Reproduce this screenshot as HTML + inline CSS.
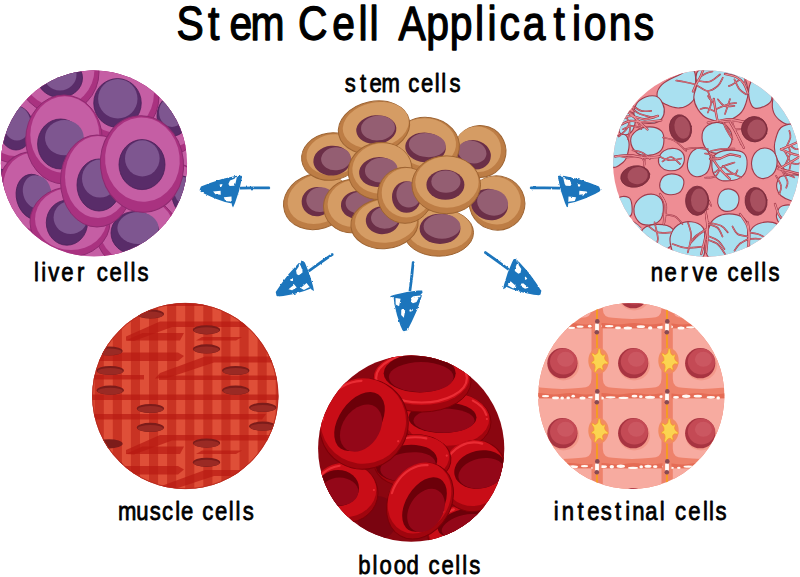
<!DOCTYPE html>
<html lang="en">
<head>
<meta charset="utf-8">
<title>Stem Cell Applications</title>
<style>
html,body{margin:0;padding:0;background:#fff;}
body{width:800px;height:577px;overflow:hidden;font-family:"Liberation Sans",sans-serif;}
svg{display:block;}
text{font-family:"Liberation Sans",sans-serif;fill:#000;stroke:#000;stroke-linejoin:round;stroke-linecap:round;}
</style>
</head>
<body>
<svg width="800" height="577" viewBox="0 0 800 577">
<rect width="800" height="577" fill="#fff"/>
<defs>
<clipPath id="cLiver"><circle cx="94" cy="163.5" r="93.1"/></clipPath>
<clipPath id="cNerve"><circle cx="706.3" cy="163.5" r="93.2"/></clipPath>
<clipPath id="cMuscle"><circle cx="185.3" cy="396" r="93.1"/></clipPath>
<clipPath id="cBlood"><circle cx="411.2" cy="448.6" r="93.1"/></clipPath>
<clipPath id="cIntest"><circle cx="631.3" cy="396" r="93.1"/></clipPath>
</defs>
<g clip-path="url(#cLiver)">
<rect x="0" y="69" width="188" height="189" fill="#c55ea4"/>
<ellipse cx="8" cy="166" rx="26" ry="26" fill="#a93280" stroke="#8e2a70" stroke-width="1.0"/><ellipse cx="9" cy="164" rx="23" ry="23" fill="#c55ea4"/><ellipse cx="0" cy="177" rx="8" ry="8" fill="#592c69" stroke="#4b2159" stroke-width="0.8"/>
<ellipse cx="14" cy="126" rx="33" ry="37" fill="#a93280" stroke="#8e2a70" stroke-width="1.0"/><ellipse cx="15" cy="123" rx="30" ry="33" fill="#c55ea4"/><ellipse cx="16" cy="128" rx="17" ry="22" fill="#592c69" stroke="#4b2159" stroke-width="0.8"/><ellipse cx="17" cy="123.5" rx="13.5" ry="17" fill="#7e5690"/>
<ellipse cx="172" cy="118" rx="30" ry="36" fill="#a93280" stroke="#8e2a70" stroke-width="1.0"/><ellipse cx="172" cy="115" rx="27" ry="32" fill="#c55ea4"/><ellipse cx="173" cy="116" rx="16" ry="20" fill="#592c69" stroke="#4b2159" stroke-width="0.8"/><ellipse cx="172" cy="112" rx="13" ry="15" fill="#7e5690"/>
<ellipse cx="117.5" cy="96" rx="41.5" ry="44" fill="#a93280" stroke="#8e2a70" stroke-width="1.0"/><ellipse cx="117.5" cy="93" rx="36.5" ry="40" fill="#c55ea4"/><ellipse cx="117.5" cy="103" rx="23.75" ry="24.4" fill="#592c69" stroke="#4b2159" stroke-width="0.8"/><ellipse cx="117.8" cy="98.8" rx="19.7" ry="19.7" fill="#7e5690"/>
<ellipse cx="58" cy="72" rx="41" ry="42" fill="#a93280" stroke="#8e2a70" stroke-width="1.0"/><ellipse cx="58" cy="69" rx="36.5" ry="38" fill="#c55ea4"/><ellipse cx="60" cy="78" rx="22.5" ry="19.5" fill="#592c69" stroke="#4b2159" stroke-width="0.8"/><ellipse cx="60" cy="74.5" rx="16.5" ry="16" fill="#7e5690"/>
<ellipse cx="178" cy="196" rx="24" ry="32" fill="#a93280" stroke="#8e2a70" stroke-width="1.0"/><ellipse cx="178" cy="193" rx="21" ry="28" fill="#c55ea4"/><ellipse cx="183" cy="194" rx="11" ry="18" fill="#592c69" stroke="#4b2159" stroke-width="0.8"/><ellipse cx="183" cy="190" rx="9" ry="13" fill="#7e5690"/>
<ellipse cx="137" cy="233" rx="41" ry="37" fill="#a93280" stroke="#8e2a70" stroke-width="1.0"/><ellipse cx="137" cy="230" rx="37" ry="33" fill="#c55ea4"/><ellipse cx="135" cy="233" rx="24" ry="21.5" fill="#592c69" stroke="#4b2159" stroke-width="0.8"/><ellipse cx="138" cy="228" rx="20.6" ry="16" fill="#7e5690"/>
<ellipse cx="36" cy="196" rx="37" ry="45" transform="rotate(-20 36 196)" fill="#a93280" stroke="#8e2a70" stroke-width="1.0"/><ellipse cx="37" cy="192" rx="33" ry="40" transform="rotate(-20 37 192)" fill="#c55ea4"/><ellipse cx="34" cy="197" rx="17.5" ry="23" transform="rotate(-15 34 197)" fill="#592c69" stroke="#4b2159" stroke-width="0.8"/><ellipse cx="37" cy="192" rx="14" ry="17" transform="rotate(-15 37 192)" fill="#7e5690"/>
<ellipse cx="70" cy="222" rx="40" ry="35" fill="#a93280" stroke="#8e2a70" stroke-width="1.0"/><ellipse cx="71" cy="219" rx="36" ry="31" fill="#c55ea4"/><ellipse cx="66.9" cy="222.7" rx="20.6" ry="22.5" fill="#592c69" stroke="#4b2159" stroke-width="0.8"/><ellipse cx="70.6" cy="217.5" rx="17" ry="16.5" fill="#7e5690"/>
<ellipse cx="64" cy="139.5" rx="38.3" ry="44.5" fill="#a93280" stroke="#8e2a70" stroke-width="1.0"/><ellipse cx="64.8" cy="134.8" rx="34.5" ry="38.5" fill="#c55ea4"/><ellipse cx="60.6" cy="144" rx="23" ry="25" fill="#592c69" stroke="#4b2159" stroke-width="0.8"/><ellipse cx="64.4" cy="137.7" rx="19.4" ry="17.6" fill="#7e5690"/>
<ellipse cx="97" cy="181" rx="36.5" ry="46" fill="#a93280" stroke="#8e2a70" stroke-width="1.0"/><ellipse cx="98" cy="177" rx="33" ry="41" fill="#c55ea4"/><ellipse cx="99" cy="185" rx="22" ry="26" fill="#592c69" stroke="#4b2159" stroke-width="0.8"/><ellipse cx="100" cy="178.6" rx="18" ry="19" fill="#7e5690"/>
<ellipse cx="142" cy="164" rx="41.5" ry="48.3" transform="rotate(-6 142 164)" fill="#a93280" stroke="#8e2a70" stroke-width="1.0"/><ellipse cx="142.4" cy="159.6" rx="37.3" ry="42.2" transform="rotate(-6 142.4 159.6)" fill="#c55ea4"/><ellipse cx="142" cy="164.6" rx="23" ry="25" fill="#592c69" stroke="#4b2159" stroke-width="0.8"/><ellipse cx="142.3" cy="158.4" rx="17.3" ry="18.1" fill="#7e5690"/>
</g>
<g clip-path="url(#cNerve)">
<rect x="612" y="69" width="188" height="189" fill="#ee8d94"/>
<g transform="translate(608 66) scale(0.33276)" stroke-linejoin="round" stroke-linecap="round">
<path d="M40.0 455.0C50.3 452.9 65.5 460.7 80.0 470.0C94.5 479.3 95.5 481.4 110.0 500.0C124.5 518.6 152.1 547.6 150.0 560.0C147.9 572.4 124.8 576.5 100.0 560.0C75.2 543.5 42.4 501.7 30.0 480.0C17.6 458.3 29.7 457.1 40.0 455.0Z" fill="#a9e0f0" stroke="#a13a4a" stroke-width="3"/>
<path d="M148.0 92.0C145.3 79.6 148.8 69.2 162.0 56.0C175.2 42.8 192.4 37.1 212.0 28.0C231.6 18.9 246.7 1.7 257.0 12.0C267.3 22.3 263.4 57.7 262.0 78.0C260.6 98.3 259.7 100.1 250.0 110.0C240.3 119.9 230.5 124.8 215.0 126.0C199.5 127.2 188.8 123.0 175.0 116.0C161.2 109.0 150.7 104.4 148.0 92.0Z" fill="none" stroke="#ee8d94" stroke-width="11"/>
<path d="M266.0 60.0C268.9 43.3 256.7 25.2 272.0 14.0C287.3 2.8 313.5 3.5 340.0 6.0C366.5 8.5 383.5 12.8 400.0 26.0C416.5 39.2 416.9 52.6 420.0 70.0C423.1 87.4 420.2 94.5 415.0 110.0C409.8 125.5 408.4 133.4 395.0 145.0C381.6 156.6 369.6 163.3 350.0 166.0C330.4 168.7 316.5 165.4 300.0 158.0C283.5 150.6 278.7 143.0 270.0 130.0C261.3 117.0 258.8 109.5 258.0 95.0C257.2 80.5 263.1 76.7 266.0 60.0Z" fill="none" stroke="#ee8d94" stroke-width="11"/>
<path d="M425.0 60.0C429.1 46.8 433.2 33.5 445.0 36.0C456.8 38.5 472.3 58.8 482.0 72.0C491.7 85.2 494.1 90.1 492.0 100.0C489.9 109.9 482.7 114.6 472.0 120.0C461.3 125.4 449.7 130.1 440.0 126.0C430.3 121.9 428.1 113.6 425.0 100.0C421.9 86.4 420.9 73.2 425.0 60.0Z" fill="none" stroke="#ee8d94" stroke-width="11"/>
<path d="M495.0 102.0C496.7 92.1 493.4 79.6 506.0 92.0C518.6 104.4 547.3 144.6 556.0 162.0C564.7 179.4 555.4 175.2 548.0 176.0C540.6 176.8 530.3 173.4 520.0 166.0C509.7 158.6 503.2 153.2 498.0 140.0C492.8 126.8 493.3 111.9 495.0 102.0Z" fill="none" stroke="#ee8d94" stroke-width="11"/>
<path d="M78.0 140.0C79.7 128.0 80.8 114.3 94.0 104.0C107.2 93.7 127.3 87.7 142.0 90.0C156.7 92.3 159.6 103.6 165.0 115.0C170.4 126.4 171.1 134.0 168.0 145.0C164.9 156.0 161.0 162.4 150.0 168.0C139.0 173.6 128.2 173.2 115.0 172.0C101.8 170.8 93.6 168.6 86.0 162.0C78.4 155.4 76.3 152.0 78.0 140.0Z" fill="none" stroke="#ee8d94" stroke-width="11"/>
<path d="M40.0 170.0C45.6 157.6 53.7 144.1 62.0 140.0C70.3 135.9 76.7 140.7 80.0 150.0C83.3 159.3 82.1 173.6 78.0 185.0C73.9 196.4 68.9 201.9 60.0 205.0C51.1 208.1 39.1 207.2 35.0 200.0C30.9 192.8 34.4 182.4 40.0 170.0Z" fill="none" stroke="#ee8d94" stroke-width="11"/>
<path d="M68.0 225.0C67.4 211.2 73.2 203.7 85.0 195.0C96.8 186.3 109.5 183.0 125.0 183.0C140.5 183.0 151.1 186.3 160.0 195.0C168.9 203.7 168.4 212.6 168.0 225.0C167.6 237.4 166.9 246.1 158.0 255.0C149.1 263.9 139.5 266.6 125.0 268.0C110.5 269.4 99.8 270.9 88.0 262.0C76.2 253.1 68.6 238.8 68.0 225.0Z" fill="none" stroke="#ee8d94" stroke-width="11"/>
<path d="M283.0 205.0C284.7 191.2 289.3 185.2 300.0 178.0C310.7 170.8 321.6 167.5 335.0 170.0C348.4 172.5 357.4 178.6 365.0 190.0C372.6 201.4 374.1 212.2 372.0 225.0C369.9 237.8 365.7 244.4 355.0 252.0C344.3 259.6 333.0 263.4 320.0 262.0C307.0 260.6 299.6 256.8 292.0 245.0C284.4 233.2 281.3 218.8 283.0 205.0Z" fill="none" stroke="#ee8d94" stroke-width="11"/>
<path d="M505.0 215.0C509.1 202.6 509.7 193.5 520.0 185.0C530.3 176.5 539.5 174.0 555.0 174.0C570.5 174.0 586.7 154.4 595.0 185.0C603.3 215.6 602.2 293.7 595.0 322.0C587.8 350.3 573.4 324.5 560.0 322.0C546.6 319.5 540.7 318.7 530.0 310.0C519.3 301.3 514.2 293.4 508.0 280.0C501.8 266.6 500.6 258.4 500.0 245.0C499.4 231.6 500.9 227.4 505.0 215.0Z" fill="none" stroke="#ee8d94" stroke-width="11"/>
<path d="M10.0 230.0C17.2 210.4 34.3 206.0 45.0 205.0C55.7 204.0 58.9 213.6 62.0 225.0C65.1 236.4 63.5 246.6 60.0 260.0C56.5 273.4 55.3 281.7 45.0 290.0C34.7 298.3 17.2 312.4 10.0 300.0C2.8 287.6 2.8 249.6 10.0 230.0Z" fill="none" stroke="#ee8d94" stroke-width="11"/>
<path d="M152.0 280.0C154.1 270.3 158.1 261.6 168.0 255.0C177.9 248.4 188.2 246.6 200.0 248.0C211.8 249.4 219.2 253.3 225.0 262.0C230.8 270.7 230.7 280.1 228.0 290.0C225.3 299.9 221.9 305.0 212.0 310.0C202.1 315.0 191.2 315.7 180.0 314.0C168.8 312.3 163.8 309.0 158.0 302.0C152.2 295.0 149.9 289.7 152.0 280.0Z" fill="none" stroke="#ee8d94" stroke-width="11"/>
<path d="M240.0 285.0C242.7 272.6 245.7 263.1 255.0 255.0C264.3 246.9 274.7 243.9 285.0 246.0C295.3 248.1 300.7 253.8 305.0 265.0C309.3 276.2 308.7 287.6 306.0 300.0C303.3 312.4 301.1 318.4 292.0 325.0C282.9 331.6 272.3 334.1 262.0 332.0C251.7 329.9 246.5 324.7 242.0 315.0C237.5 305.3 237.3 297.4 240.0 285.0Z" fill="none" stroke="#ee8d94" stroke-width="11"/>
<path d="M312.0 290.0C312.6 274.9 316.0 269.6 328.0 262.0C340.0 254.4 353.5 253.0 370.0 253.0C386.5 253.0 398.1 253.3 408.0 262.0C417.9 270.7 418.6 280.9 418.0 295.0C417.4 309.1 416.0 319.7 405.0 330.0C394.0 340.3 381.5 344.0 365.0 345.0C348.5 346.0 336.0 346.4 325.0 335.0C314.0 323.6 311.4 305.1 312.0 290.0Z" fill="none" stroke="#ee8d94" stroke-width="11"/>
<path d="M432.0 285.0C434.1 271.6 438.5 262.9 448.0 255.0C457.5 247.1 466.6 244.9 478.0 247.0C489.4 249.1 497.0 254.0 503.0 265.0C509.0 276.0 509.3 287.0 507.0 300.0C504.7 313.0 501.3 320.1 492.0 328.0C482.7 335.9 473.2 339.7 462.0 338.0C450.8 336.3 444.2 331.0 438.0 320.0C431.8 309.0 429.9 298.4 432.0 285.0Z" fill="none" stroke="#ee8d94" stroke-width="11"/>
<path d="M156.0 352.0C158.1 342.9 160.9 335.6 170.0 330.0C179.1 324.4 188.6 323.3 200.0 325.0C211.4 326.7 219.6 330.4 225.0 338.0C230.4 345.6 228.7 352.9 226.0 362.0C223.3 371.1 221.5 377.0 212.0 382.0C202.5 387.0 190.7 387.7 180.0 386.0C169.3 384.3 165.0 381.0 160.0 374.0C155.0 367.0 153.9 361.1 156.0 352.0Z" fill="none" stroke="#ee8d94" stroke-width="11"/>
<path d="M330.0 400.0C331.9 390.5 334.1 382.2 342.0 376.0C349.9 369.8 358.1 368.1 368.0 370.0C377.9 371.9 385.0 376.3 390.0 385.0C395.0 393.7 394.5 402.3 392.0 412.0C389.5 421.7 386.7 427.0 378.0 432.0C369.3 437.0 359.3 438.1 350.0 436.0C340.7 433.9 337.1 429.4 333.0 422.0C328.9 414.6 328.1 409.5 330.0 400.0Z" fill="none" stroke="#ee8d94" stroke-width="11"/>
<path d="M510.0 345.0C514.5 336.7 512.4 331.4 530.0 330.0C547.6 328.6 581.6 321.1 595.0 338.0C608.4 354.9 604.3 398.2 595.0 412.0C585.7 425.8 565.5 409.5 550.0 405.0C534.5 400.5 528.7 397.2 520.0 390.0C511.3 382.8 510.1 379.3 508.0 370.0C505.9 360.7 505.5 353.3 510.0 345.0Z" fill="none" stroke="#ee8d94" stroke-width="11"/>
<path d="M78.0 430.0C78.6 415.5 84.3 407.3 95.0 398.0C105.7 388.7 116.6 384.6 130.0 385.0C143.4 385.4 152.6 389.7 160.0 400.0C167.4 410.3 167.0 421.6 166.0 435.0C165.0 448.4 163.5 456.1 155.0 465.0C146.5 473.9 138.0 477.4 125.0 478.0C112.0 478.6 101.7 477.9 92.0 468.0C82.3 458.1 77.4 444.5 78.0 430.0Z" fill="none" stroke="#ee8d94" stroke-width="11"/>
<path d="M30.0 400.0C33.5 389.7 53.3 390.9 62.0 395.0C70.7 399.1 70.8 408.6 72.0 420.0C73.2 431.4 73.6 444.8 68.0 450.0C62.4 455.2 52.9 455.3 45.0 445.0C37.1 434.7 26.5 410.3 30.0 400.0Z" fill="none" stroke="#ee8d94" stroke-width="11"/>
<path d="M105.0 490.0C114.3 480.5 131.4 476.0 150.0 476.0C168.6 476.0 184.7 478.8 195.0 490.0C205.3 501.2 209.3 516.6 200.0 530.0C190.7 543.4 169.6 556.7 150.0 555.0C130.4 553.3 114.3 535.4 105.0 522.0C95.7 508.6 95.7 499.5 105.0 490.0Z" fill="none" stroke="#ee8d94" stroke-width="11"/>
<path d="M188.0 510.0C192.1 496.2 197.2 486.7 210.0 478.0C222.8 469.3 234.5 466.6 250.0 468.0C265.5 469.4 276.7 474.3 285.0 485.0C293.3 495.7 291.0 500.4 290.0 520.0C289.0 539.6 296.5 567.6 280.0 580.0C263.5 592.4 228.6 587.2 210.0 580.0C191.4 572.8 194.5 559.5 190.0 545.0C185.5 530.5 183.9 523.8 188.0 510.0Z" fill="none" stroke="#ee8d94" stroke-width="11"/>
<path d="M302.0 490.0C307.6 474.5 309.9 464.3 325.0 455.0C340.1 445.7 356.4 442.9 375.0 445.0C393.6 447.1 405.7 452.6 415.0 465.0C424.3 477.4 421.0 481.2 420.0 505.0C419.0 528.8 432.7 564.5 410.0 580.0C387.3 595.5 333.1 590.3 310.0 580.0C286.9 569.7 299.7 548.6 298.0 530.0C296.3 511.4 296.4 505.5 302.0 490.0Z" fill="none" stroke="#ee8d94" stroke-width="11"/>
<path d="M425.0 500.0C430.8 488.6 435.5 481.2 450.0 475.0C464.5 468.8 480.5 466.9 495.0 470.0C509.5 473.1 515.9 477.6 520.0 490.0C524.1 502.4 531.5 516.6 515.0 530.0C498.5 543.4 459.2 555.0 440.0 555.0C420.8 555.0 425.1 541.4 422.0 530.0C418.9 518.6 419.2 511.4 425.0 500.0Z" fill="none" stroke="#ee8d94" stroke-width="11"/>
<path d="M508.0 440.0C511.1 430.7 514.3 423.1 525.0 420.0C535.7 416.9 551.7 414.7 560.0 425.0C568.3 435.3 571.2 458.6 565.0 470.0C558.8 481.4 541.4 481.0 530.0 480.0C518.6 479.0 514.5 473.3 510.0 465.0C505.5 456.7 504.9 449.3 508.0 440.0Z" fill="none" stroke="#ee8d94" stroke-width="11"/>
<path d="M148.0 92.0C145.3 79.6 148.8 69.2 162.0 56.0C175.2 42.8 192.4 37.1 212.0 28.0C231.6 18.9 246.7 1.7 257.0 12.0C267.3 22.3 263.4 57.7 262.0 78.0C260.6 98.3 259.7 100.1 250.0 110.0C240.3 119.9 230.5 124.8 215.0 126.0C199.5 127.2 188.8 123.0 175.0 116.0C161.2 109.0 150.7 104.4 148.0 92.0Z" fill="#a9e0f0" stroke="#a13a4a" stroke-width="3.4"/>
<path d="M266.0 60.0C268.9 43.3 256.7 25.2 272.0 14.0C287.3 2.8 313.5 3.5 340.0 6.0C366.5 8.5 383.5 12.8 400.0 26.0C416.5 39.2 416.9 52.6 420.0 70.0C423.1 87.4 420.2 94.5 415.0 110.0C409.8 125.5 408.4 133.4 395.0 145.0C381.6 156.6 369.6 163.3 350.0 166.0C330.4 168.7 316.5 165.4 300.0 158.0C283.5 150.6 278.7 143.0 270.0 130.0C261.3 117.0 258.8 109.5 258.0 95.0C257.2 80.5 263.1 76.7 266.0 60.0Z" fill="#a9e0f0" stroke="#a13a4a" stroke-width="3.4"/>
<path d="M425.0 60.0C429.1 46.8 433.2 33.5 445.0 36.0C456.8 38.5 472.3 58.8 482.0 72.0C491.7 85.2 494.1 90.1 492.0 100.0C489.9 109.9 482.7 114.6 472.0 120.0C461.3 125.4 449.7 130.1 440.0 126.0C430.3 121.9 428.1 113.6 425.0 100.0C421.9 86.4 420.9 73.2 425.0 60.0Z" fill="#a9e0f0" stroke="#a13a4a" stroke-width="3.4"/>
<path d="M495.0 102.0C496.7 92.1 493.4 79.6 506.0 92.0C518.6 104.4 547.3 144.6 556.0 162.0C564.7 179.4 555.4 175.2 548.0 176.0C540.6 176.8 530.3 173.4 520.0 166.0C509.7 158.6 503.2 153.2 498.0 140.0C492.8 126.8 493.3 111.9 495.0 102.0Z" fill="#a9e0f0" stroke="#a13a4a" stroke-width="3.4"/>
<path d="M78.0 140.0C79.7 128.0 80.8 114.3 94.0 104.0C107.2 93.7 127.3 87.7 142.0 90.0C156.7 92.3 159.6 103.6 165.0 115.0C170.4 126.4 171.1 134.0 168.0 145.0C164.9 156.0 161.0 162.4 150.0 168.0C139.0 173.6 128.2 173.2 115.0 172.0C101.8 170.8 93.6 168.6 86.0 162.0C78.4 155.4 76.3 152.0 78.0 140.0Z" fill="#a9e0f0" stroke="#a13a4a" stroke-width="3.4"/>
<path d="M40.0 170.0C45.6 157.6 53.7 144.1 62.0 140.0C70.3 135.9 76.7 140.7 80.0 150.0C83.3 159.3 82.1 173.6 78.0 185.0C73.9 196.4 68.9 201.9 60.0 205.0C51.1 208.1 39.1 207.2 35.0 200.0C30.9 192.8 34.4 182.4 40.0 170.0Z" fill="#a9e0f0" stroke="#a13a4a" stroke-width="3.4"/>
<path d="M68.0 225.0C67.4 211.2 73.2 203.7 85.0 195.0C96.8 186.3 109.5 183.0 125.0 183.0C140.5 183.0 151.1 186.3 160.0 195.0C168.9 203.7 168.4 212.6 168.0 225.0C167.6 237.4 166.9 246.1 158.0 255.0C149.1 263.9 139.5 266.6 125.0 268.0C110.5 269.4 99.8 270.9 88.0 262.0C76.2 253.1 68.6 238.8 68.0 225.0Z" fill="#a9e0f0" stroke="#a13a4a" stroke-width="3.4"/>
<path d="M283.0 205.0C284.7 191.2 289.3 185.2 300.0 178.0C310.7 170.8 321.6 167.5 335.0 170.0C348.4 172.5 357.4 178.6 365.0 190.0C372.6 201.4 374.1 212.2 372.0 225.0C369.9 237.8 365.7 244.4 355.0 252.0C344.3 259.6 333.0 263.4 320.0 262.0C307.0 260.6 299.6 256.8 292.0 245.0C284.4 233.2 281.3 218.8 283.0 205.0Z" fill="#a9e0f0" stroke="#a13a4a" stroke-width="3.4"/>
<path d="M505.0 215.0C509.1 202.6 509.7 193.5 520.0 185.0C530.3 176.5 539.5 174.0 555.0 174.0C570.5 174.0 586.7 154.4 595.0 185.0C603.3 215.6 602.2 293.7 595.0 322.0C587.8 350.3 573.4 324.5 560.0 322.0C546.6 319.5 540.7 318.7 530.0 310.0C519.3 301.3 514.2 293.4 508.0 280.0C501.8 266.6 500.6 258.4 500.0 245.0C499.4 231.6 500.9 227.4 505.0 215.0Z" fill="#a9e0f0" stroke="#a13a4a" stroke-width="3.4"/>
<path d="M10.0 230.0C17.2 210.4 34.3 206.0 45.0 205.0C55.7 204.0 58.9 213.6 62.0 225.0C65.1 236.4 63.5 246.6 60.0 260.0C56.5 273.4 55.3 281.7 45.0 290.0C34.7 298.3 17.2 312.4 10.0 300.0C2.8 287.6 2.8 249.6 10.0 230.0Z" fill="#a9e0f0" stroke="#a13a4a" stroke-width="3.4"/>
<path d="M152.0 280.0C154.1 270.3 158.1 261.6 168.0 255.0C177.9 248.4 188.2 246.6 200.0 248.0C211.8 249.4 219.2 253.3 225.0 262.0C230.8 270.7 230.7 280.1 228.0 290.0C225.3 299.9 221.9 305.0 212.0 310.0C202.1 315.0 191.2 315.7 180.0 314.0C168.8 312.3 163.8 309.0 158.0 302.0C152.2 295.0 149.9 289.7 152.0 280.0Z" fill="#a9e0f0" stroke="#a13a4a" stroke-width="3.4"/>
<path d="M240.0 285.0C242.7 272.6 245.7 263.1 255.0 255.0C264.3 246.9 274.7 243.9 285.0 246.0C295.3 248.1 300.7 253.8 305.0 265.0C309.3 276.2 308.7 287.6 306.0 300.0C303.3 312.4 301.1 318.4 292.0 325.0C282.9 331.6 272.3 334.1 262.0 332.0C251.7 329.9 246.5 324.7 242.0 315.0C237.5 305.3 237.3 297.4 240.0 285.0Z" fill="#a9e0f0" stroke="#a13a4a" stroke-width="3.4"/>
<path d="M312.0 290.0C312.6 274.9 316.0 269.6 328.0 262.0C340.0 254.4 353.5 253.0 370.0 253.0C386.5 253.0 398.1 253.3 408.0 262.0C417.9 270.7 418.6 280.9 418.0 295.0C417.4 309.1 416.0 319.7 405.0 330.0C394.0 340.3 381.5 344.0 365.0 345.0C348.5 346.0 336.0 346.4 325.0 335.0C314.0 323.6 311.4 305.1 312.0 290.0Z" fill="#a9e0f0" stroke="#a13a4a" stroke-width="3.4"/>
<path d="M432.0 285.0C434.1 271.6 438.5 262.9 448.0 255.0C457.5 247.1 466.6 244.9 478.0 247.0C489.4 249.1 497.0 254.0 503.0 265.0C509.0 276.0 509.3 287.0 507.0 300.0C504.7 313.0 501.3 320.1 492.0 328.0C482.7 335.9 473.2 339.7 462.0 338.0C450.8 336.3 444.2 331.0 438.0 320.0C431.8 309.0 429.9 298.4 432.0 285.0Z" fill="#a9e0f0" stroke="#a13a4a" stroke-width="3.4"/>
<path d="M156.0 352.0C158.1 342.9 160.9 335.6 170.0 330.0C179.1 324.4 188.6 323.3 200.0 325.0C211.4 326.7 219.6 330.4 225.0 338.0C230.4 345.6 228.7 352.9 226.0 362.0C223.3 371.1 221.5 377.0 212.0 382.0C202.5 387.0 190.7 387.7 180.0 386.0C169.3 384.3 165.0 381.0 160.0 374.0C155.0 367.0 153.9 361.1 156.0 352.0Z" fill="#a9e0f0" stroke="#a13a4a" stroke-width="3.4"/>
<path d="M330.0 400.0C331.9 390.5 334.1 382.2 342.0 376.0C349.9 369.8 358.1 368.1 368.0 370.0C377.9 371.9 385.0 376.3 390.0 385.0C395.0 393.7 394.5 402.3 392.0 412.0C389.5 421.7 386.7 427.0 378.0 432.0C369.3 437.0 359.3 438.1 350.0 436.0C340.7 433.9 337.1 429.4 333.0 422.0C328.9 414.6 328.1 409.5 330.0 400.0Z" fill="#a9e0f0" stroke="#a13a4a" stroke-width="3.4"/>
<path d="M510.0 345.0C514.5 336.7 512.4 331.4 530.0 330.0C547.6 328.6 581.6 321.1 595.0 338.0C608.4 354.9 604.3 398.2 595.0 412.0C585.7 425.8 565.5 409.5 550.0 405.0C534.5 400.5 528.7 397.2 520.0 390.0C511.3 382.8 510.1 379.3 508.0 370.0C505.9 360.7 505.5 353.3 510.0 345.0Z" fill="#a9e0f0" stroke="#a13a4a" stroke-width="3.4"/>
<path d="M78.0 430.0C78.6 415.5 84.3 407.3 95.0 398.0C105.7 388.7 116.6 384.6 130.0 385.0C143.4 385.4 152.6 389.7 160.0 400.0C167.4 410.3 167.0 421.6 166.0 435.0C165.0 448.4 163.5 456.1 155.0 465.0C146.5 473.9 138.0 477.4 125.0 478.0C112.0 478.6 101.7 477.9 92.0 468.0C82.3 458.1 77.4 444.5 78.0 430.0Z" fill="#a9e0f0" stroke="#a13a4a" stroke-width="3.4"/>
<path d="M30.0 400.0C33.5 389.7 53.3 390.9 62.0 395.0C70.7 399.1 70.8 408.6 72.0 420.0C73.2 431.4 73.6 444.8 68.0 450.0C62.4 455.2 52.9 455.3 45.0 445.0C37.1 434.7 26.5 410.3 30.0 400.0Z" fill="#a9e0f0" stroke="#a13a4a" stroke-width="3.4"/>
<path d="M105.0 490.0C114.3 480.5 131.4 476.0 150.0 476.0C168.6 476.0 184.7 478.8 195.0 490.0C205.3 501.2 209.3 516.6 200.0 530.0C190.7 543.4 169.6 556.7 150.0 555.0C130.4 553.3 114.3 535.4 105.0 522.0C95.7 508.6 95.7 499.5 105.0 490.0Z" fill="#a9e0f0" stroke="#a13a4a" stroke-width="3.4"/>
<path d="M188.0 510.0C192.1 496.2 197.2 486.7 210.0 478.0C222.8 469.3 234.5 466.6 250.0 468.0C265.5 469.4 276.7 474.3 285.0 485.0C293.3 495.7 291.0 500.4 290.0 520.0C289.0 539.6 296.5 567.6 280.0 580.0C263.5 592.4 228.6 587.2 210.0 580.0C191.4 572.8 194.5 559.5 190.0 545.0C185.5 530.5 183.9 523.8 188.0 510.0Z" fill="#a9e0f0" stroke="#a13a4a" stroke-width="3.4"/>
<path d="M302.0 490.0C307.6 474.5 309.9 464.3 325.0 455.0C340.1 445.7 356.4 442.9 375.0 445.0C393.6 447.1 405.7 452.6 415.0 465.0C424.3 477.4 421.0 481.2 420.0 505.0C419.0 528.8 432.7 564.5 410.0 580.0C387.3 595.5 333.1 590.3 310.0 580.0C286.9 569.7 299.7 548.6 298.0 530.0C296.3 511.4 296.4 505.5 302.0 490.0Z" fill="#a9e0f0" stroke="#a13a4a" stroke-width="3.4"/>
<path d="M425.0 500.0C430.8 488.6 435.5 481.2 450.0 475.0C464.5 468.8 480.5 466.9 495.0 470.0C509.5 473.1 515.9 477.6 520.0 490.0C524.1 502.4 531.5 516.6 515.0 530.0C498.5 543.4 459.2 555.0 440.0 555.0C420.8 555.0 425.1 541.4 422.0 530.0C418.9 518.6 419.2 511.4 425.0 500.0Z" fill="#a9e0f0" stroke="#a13a4a" stroke-width="3.4"/>
<path d="M508.0 440.0C511.1 430.7 514.3 423.1 525.0 420.0C535.7 416.9 551.7 414.7 560.0 425.0C568.3 435.3 571.2 458.6 565.0 470.0C558.8 481.4 541.4 481.0 530.0 480.0C518.6 479.0 514.5 473.3 510.0 465.0C505.5 456.7 504.9 449.3 508.0 440.0Z" fill="#a9e0f0" stroke="#a13a4a" stroke-width="3.4"/>
<path d="M255.4 76.6C257.1 72.9 261.5 61.6 265.2 54.1C269.0 46.6 274.6 38.4 278.0 31.6C281.4 24.7 284.2 15.9 285.5 12.8" fill="none" stroke="#a13a4a" stroke-width="7"/>
<path d="M270.5 45.1C276.5 45.3 295.5 49.8 306.5 46.6C317.6 43.3 331.6 29.1 336.6 25.5" fill="none" stroke="#a13a4a" stroke-width="5"/>
<path d="M265.2 55.6C259.6 54.3 241.4 50.1 231.4 48.1C221.4 46.1 209.5 44.3 205.1 43.6" fill="none" stroke="#a13a4a" stroke-width="5"/>
<path d="M278.0 31.6C281.5 29.7 293.0 22.8 299.0 20.3C305.0 17.8 311.5 17.2 314.0 16.5" fill="none" stroke="#a13a4a" stroke-width="5"/>
<path d="M420.7 82.6C418.6 77.6 413.8 60.9 408.0 52.6C402.1 44.3 394.8 37.8 385.4 33.1C376.0 28.3 357.2 25.5 351.6 24.0" fill="none" stroke="#a13a4a" stroke-width="7"/>
<path d="M410.2 57.1C410.7 54.1 411.1 43.3 413.2 39.1C415.3 34.8 421.4 32.8 423.0 31.6" fill="none" stroke="#a13a4a" stroke-width="5"/>
<path d="M396.7 40.6C392.9 43.1 379.8 52.3 374.1 55.6C368.5 58.9 364.8 59.4 362.9 60.1" fill="none" stroke="#a13a4a" stroke-width="5"/>
<path d="M329.1 165.3C328.1 159.9 324.9 144.0 323.1 133.0C321.2 122.0 318.7 104.8 317.8 99.2" fill="none" stroke="#a13a4a" stroke-width="7"/>
<path d="M324.6 138.2C319.7 136.2 303.0 127.7 295.3 126.2C287.5 124.7 280.9 128.7 278.0 129.2" fill="none" stroke="#a13a4a" stroke-width="5"/>
<path d="M322.3 130.7C328.4 128.2 348.6 119.0 359.1 115.7C369.6 112.4 381.0 111.9 385.4 111.2" fill="none" stroke="#a13a4a" stroke-width="5"/>
<path d="M320.1 114.2C317.6 111.4 308.3 101.7 305.0 97.7C301.8 93.7 301.3 91.4 300.5 90.2" fill="none" stroke="#a13a4a" stroke-width="5"/>
<path d="M366.6 99.2C365.6 102.3 363.1 110.4 360.6 118.0C358.1 125.5 353.1 139.9 351.6 144.2" fill="none" stroke="#a13a4a" stroke-width="5"/>
<path d="M336.6 168.3C341.6 167.8 356.6 165.8 366.6 165.3C376.7 164.8 386.7 164.3 396.7 165.3C406.7 166.3 421.7 170.3 426.7 171.3" fill="none" stroke="#a13a4a" stroke-width="7"/>
<path d="M366.6 168.3C370.4 174.9 382.3 195.2 389.2 208.1C396.1 221.0 404.8 239.4 408.0 245.7" fill="none" stroke="#a13a4a" stroke-width="7"/>
<path d="M351.6 174.3C354.1 179.3 362.9 196.8 366.6 204.4C370.4 211.9 372.9 216.9 374.1 219.4" fill="none" stroke="#a13a4a" stroke-width="5"/>
<path d="M381.7 190.8C386.0 190.8 401.7 188.6 408.0 190.8C414.2 193.1 417.3 202.1 419.2 204.4" fill="none" stroke="#a13a4a" stroke-width="5"/>
<path d="M28.5 181.8C34.8 179.1 52.3 167.5 66.1 165.3C79.9 163.0 95.5 168.7 111.2 168.3C126.8 167.9 151.9 163.9 160.0 163.0" fill="none" stroke="#a13a4a" stroke-width="7"/>
<path d="M58.6 136.7C63.6 141.1 78.6 154.0 88.7 163.0C98.7 172.0 113.7 186.2 118.7 190.8" fill="none" stroke="#a13a4a" stroke-width="7"/>
<path d="M73.6 129.2C77.4 131.7 85.5 139.9 96.2 144.2C106.8 148.6 130.6 153.6 137.5 155.5" fill="none" stroke="#a13a4a" stroke-width="5"/>
<path d="M32.3 211.9C36.1 208.4 49.5 197.6 54.8 190.8C60.2 184.1 63.0 174.6 64.6 171.3" fill="none" stroke="#a13a4a" stroke-width="5"/>
<path d="M51.1 144.2C53.6 150.5 64.6 169.3 66.1 181.8C67.6 194.3 61.1 213.1 60.1 219.4" fill="none" stroke="#a13a4a" stroke-width="5"/>
<path d="M21.0 272.0C28.5 271.3 51.1 267.6 66.1 268.2C81.1 268.8 96.4 275.1 111.2 275.7C126.0 276.4 147.5 272.6 154.8 272.0" fill="none" stroke="#a13a4a" stroke-width="7"/>
<path d="M73.6 253.2C78.6 254.4 94.9 256.3 103.7 260.7C112.4 265.1 122.5 276.4 126.2 279.5" fill="none" stroke="#a13a4a" stroke-width="5"/>
<path d="M111.2 275.7C110.6 281.4 109.3 300.8 107.4 309.5C105.6 318.3 101.2 325.2 99.9 328.3" fill="none" stroke="#a13a4a" stroke-width="5"/>
<path d="M154.8 272.0C160.0 273.8 175.4 282.2 186.3 283.2C197.2 284.2 214.5 278.9 220.1 278.0" fill="none" stroke="#a13a4a" stroke-width="5"/>
<path d="M163.8 287.0C168.2 284.7 181.3 272.2 190.1 273.5C198.8 274.7 212.0 291.0 216.4 294.5" fill="none" stroke="#a13a4a" stroke-width="5"/>
<path d="M306.5 279.5C311.5 279.2 326.6 280.2 336.6 278.0C346.6 275.7 356.6 267.0 366.6 266.0C376.7 265.0 391.7 271.0 396.7 272.0" fill="none" stroke="#a13a4a" stroke-width="7"/>
<path d="M317.8 283.2C320.9 287.6 328.4 300.1 336.6 309.5C344.7 318.9 361.6 334.6 366.6 339.6" fill="none" stroke="#a13a4a" stroke-width="7"/>
<path d="M336.6 309.5C334.1 313.3 329.1 327.7 321.6 332.1C314.0 336.5 296.5 335.2 291.5 335.8" fill="none" stroke="#a13a4a" stroke-width="5"/>
<path d="M351.6 324.6C356.6 324.6 375.4 326.4 381.7 324.6C387.9 322.7 387.9 315.2 389.2 313.3" fill="none" stroke="#a13a4a" stroke-width="5"/>
<path d="M329.1 279.5C325.3 277.2 312.8 268.7 306.5 266.0C300.3 263.2 294.0 263.5 291.5 263.0" fill="none" stroke="#a13a4a" stroke-width="5"/>
<path d="M513.1 309.5C517.5 307.0 528.8 300.8 539.4 294.5C550.1 288.2 570.7 275.7 577.0 272.0" fill="none" stroke="#a13a4a" stroke-width="7"/>
<path d="M513.1 309.5C518.8 310.8 536.3 314.5 546.9 317.0C557.6 319.6 572.0 323.3 577.0 324.6" fill="none" stroke="#a13a4a" stroke-width="7"/>
<path d="M531.9 298.3C534.4 292.6 545.1 273.8 546.9 264.5C548.8 255.1 543.8 245.7 543.2 241.9" fill="none" stroke="#a13a4a" stroke-width="5"/>
<path d="M524.4 317.0C526.9 322.1 537.6 339.0 539.4 347.1C541.3 355.2 536.3 362.8 535.7 365.9" fill="none" stroke="#a13a4a" stroke-width="5"/>
<path d="M546.9 290.8C550.7 291.4 564.5 294.5 569.5 294.5C574.5 294.5 575.7 291.4 577.0 290.8" fill="none" stroke="#a13a4a" stroke-width="5"/>
<path d="M265.2 369.6C267.1 372.1 272.1 377.2 276.5 384.7C280.9 392.2 289.0 409.7 291.5 414.7" fill="none" stroke="#a13a4a" stroke-width="5"/>
<path d="M272.7 384.7C277.1 387.2 293.4 394.7 299.0 399.7C304.7 404.7 305.3 412.2 306.5 414.7" fill="none" stroke="#a13a4a" stroke-width="5"/>
<path d="M156.3 384.7C158.8 389.7 169.4 399.7 171.3 414.7C173.2 429.7 168.2 464.8 167.5 474.8" fill="none" stroke="#a13a4a" stroke-width="7"/>
<path d="M163.8 444.8C170.0 446.0 191.3 447.3 201.3 452.3C211.4 457.3 220.1 471.1 223.9 474.8" fill="none" stroke="#a13a4a" stroke-width="5"/>
<path d="M291.5 429.7C292.8 437.3 299.0 459.8 299.0 474.8C299.0 489.8 294.6 504.9 291.5 519.9C288.4 534.9 282.1 557.5 280.2 565.0" fill="none" stroke="#a13a4a" stroke-width="7"/>
<path d="M295.3 489.8C289.6 493.6 269.6 504.9 261.5 512.4C253.3 519.9 248.9 531.2 246.4 534.9" fill="none" stroke="#a13a4a" stroke-width="5"/>
<path d="M293.0 519.9C299.0 522.4 319.3 527.4 329.1 534.9C338.8 542.4 347.9 560.0 351.6 565.0" fill="none" stroke="#a13a4a" stroke-width="5"/>
<path d="M287.7 542.4C278.4 543.1 247.1 547.4 231.4 546.2C215.7 544.9 200.1 536.8 193.8 534.9" fill="none" stroke="#a13a4a" stroke-width="5"/>
<path d="M299.0 474.8C304.0 476.7 321.6 479.8 329.1 486.1C336.6 492.4 341.6 508.0 344.1 512.4" fill="none" stroke="#a13a4a" stroke-width="5"/>
<path d="M396.7 444.8C400.4 451.0 414.7 467.3 419.2 482.3C423.7 497.4 423.7 518.6 423.7 534.9C423.7 551.2 420.0 572.5 419.2 580.0" fill="none" stroke="#a13a4a" stroke-width="7"/>
<path d="M422.2 519.9C428.0 519.9 446.0 517.4 456.8 519.9C467.6 522.4 481.8 532.4 486.8 534.9" fill="none" stroke="#a13a4a" stroke-width="5"/>
<path d="M422.2 550.0C418.0 552.5 403.4 560.0 396.7 565.0C389.9 570.0 384.2 577.5 381.7 580.0" fill="none" stroke="#a13a4a" stroke-width="5"/>
<path d="M420.7 512.4C415.5 511.1 396.9 509.9 389.2 504.9C381.4 499.9 376.7 486.1 374.1 482.3" fill="none" stroke="#a13a4a" stroke-width="5"/>
<path d="M501.9 414.7C504.4 421.0 509.4 442.3 516.9 452.3C524.4 462.3 541.9 471.1 546.9 474.8" fill="none" stroke="#a13a4a" stroke-width="7"/>
<path d="M520.0 250.0C524.2 248.3 535.5 244.2 545.0 240.0C554.5 235.8 571.7 227.5 577.0 225.0" fill="none" stroke="#a13a4a" stroke-width="7"/>
<path d="M520.0 250.0C524.7 252.0 538.5 258.7 548.0 262.0C557.5 265.3 572.2 268.7 577.0 270.0" fill="none" stroke="#a13a4a" stroke-width="7"/>
<path d="M535.0 245.0C537.2 240.0 546.3 223.3 548.0 215.0C549.7 206.7 545.5 198.3 545.0 195.0" fill="none" stroke="#a13a4a" stroke-width="5"/>
<path d="M532.0 258.0C534.7 263.3 545.8 281.0 548.0 290.0C550.2 299.0 545.5 308.3 545.0 312.0" fill="none" stroke="#a13a4a" stroke-width="5"/>
<path d="M548.0 240.0C550.8 241.7 560.2 248.7 565.0 250.0C569.8 251.3 575.0 248.3 577.0 248.0" fill="none" stroke="#a13a4a" stroke-width="5"/>
<path d="M510.0 300.0C513.3 303.3 521.7 314.2 530.0 320.0C538.3 325.8 555.0 332.5 560.0 335.0" fill="none" stroke="#a13a4a" stroke-width="5"/>
<path d="M505.0 330.0C507.5 335.0 518.3 350.8 520.0 360.0C521.7 369.2 515.8 380.8 515.0 385.0" fill="none" stroke="#a13a4a" stroke-width="5"/>
<path d="M40.0 160.0C45.0 158.3 58.3 150.0 70.0 150.0C81.7 150.0 96.7 160.0 110.0 160.0C123.3 160.0 143.3 151.7 150.0 150.0" fill="none" stroke="#a13a4a" stroke-width="7"/>
<path d="M60.0 130.0C64.2 135.0 78.3 150.0 85.0 160.0C91.7 170.0 97.5 185.0 100.0 190.0" fill="none" stroke="#a13a4a" stroke-width="5"/>
<path d="M45.0 190.0C49.2 188.3 61.7 180.8 70.0 180.0C78.3 179.2 90.8 184.2 95.0 185.0" fill="none" stroke="#a13a4a" stroke-width="5"/>
<path d="M75.0 120.0C79.2 122.5 90.8 132.5 100.0 135.0C109.2 137.5 125.0 135.0 130.0 135.0" fill="none" stroke="#a13a4a" stroke-width="5"/>
<path d="M30.0 270.0C35.0 270.8 48.3 275.0 60.0 275.0C71.7 275.0 85.0 270.0 100.0 270.0C115.0 270.0 141.7 274.2 150.0 275.0" fill="none" stroke="#a13a4a" stroke-width="5"/>
<path d="M100.0 270.0C101.7 274.2 110.0 287.5 110.0 295.0C110.0 302.5 101.7 311.7 100.0 315.0" fill="none" stroke="#a13a4a" stroke-width="5"/>
<path d="M165.0 215.0C170.8 216.7 188.3 218.3 200.0 225.0C211.7 231.7 229.2 250.0 235.0 255.0" fill="none" stroke="#a13a4a" stroke-width="5"/>
<path d="M230.0 250.0C235.3 249.3 250.3 246.0 262.0 246.0C273.7 246.0 293.7 249.3 300.0 250.0" fill="none" stroke="#a13a4a" stroke-width="5"/>
<path d="M300.0 170.0C305.0 169.2 318.3 166.7 330.0 165.0C341.7 163.3 356.7 159.2 370.0 160.0C383.3 160.8 403.3 168.3 410.0 170.0" fill="none" stroke="#a13a4a" stroke-width="7"/>
<path d="M370.0 160.0C372.5 166.7 380.0 187.5 385.0 200.0C390.0 212.5 397.5 229.2 400.0 235.0" fill="none" stroke="#a13a4a" stroke-width="5"/>
<path d="M345.0 165.0C346.7 169.2 350.8 181.7 355.0 190.0C359.2 198.3 367.5 210.8 370.0 215.0" fill="none" stroke="#a13a4a" stroke-width="5"/>
<path d="M310.0 255.0C315.0 254.2 328.3 251.2 340.0 250.0C351.7 248.8 373.3 248.3 380.0 248.0" fill="none" stroke="#a13a4a" stroke-width="5"/>
<path d="M345.0 300.0C349.2 303.3 360.8 314.2 370.0 320.0C379.2 325.8 395.0 332.5 400.0 335.0" fill="none" stroke="#a13a4a" stroke-width="5"/>
<path d="M320.0 320.0C325.0 316.7 340.0 305.0 350.0 300.0C360.0 295.0 375.0 291.7 380.0 290.0" fill="none" stroke="#a13a4a" stroke-width="5"/>
<path d="M268.0 370.0C270.0 373.3 274.7 380.0 280.0 390.0C285.3 400.0 296.7 423.3 300.0 430.0" fill="none" stroke="#a13a4a" stroke-width="5"/>
<path d="M275.0 385.0C279.2 387.5 294.2 394.2 300.0 400.0C305.8 405.8 308.3 416.7 310.0 420.0" fill="none" stroke="#a13a4a" stroke-width="5"/>
<path d="M262.0 380.0C260.0 384.2 251.2 395.8 250.0 405.0C248.8 414.2 254.2 430.0 255.0 435.0" fill="none" stroke="#a13a4a" stroke-width="5"/>
<path d="M160.0 390.0C162.5 395.0 173.3 406.7 175.0 420.0C176.7 433.3 170.8 461.7 170.0 470.0" fill="none" stroke="#a13a4a" stroke-width="5"/>
<path d="M120.0 480.0C125.0 483.3 138.3 496.7 150.0 500.0C161.7 503.3 183.3 500.0 190.0 500.0" fill="none" stroke="#a13a4a" stroke-width="5"/>
<path d="M140.0 470.0C141.7 478.3 150.0 507.5 150.0 520.0C150.0 532.5 141.7 540.8 140.0 545.0" fill="none" stroke="#a13a4a" stroke-width="5"/>
<path d="M240.0 470.0C241.7 476.7 250.0 495.0 250.0 510.0C250.0 525.0 241.7 551.7 240.0 560.0" fill="none" stroke="#a13a4a" stroke-width="5"/>
<path d="M295.0 450.0C295.8 458.3 300.0 481.7 300.0 500.0C300.0 518.3 295.8 550.0 295.0 560.0" fill="none" stroke="#a13a4a" stroke-width="7"/>
<path d="M298.0 490.0C293.3 493.3 278.0 503.3 270.0 510.0C262.0 516.7 253.3 526.7 250.0 530.0" fill="none" stroke="#a13a4a" stroke-width="5"/>
<path d="M298.0 510.0C303.3 512.5 321.3 518.3 330.0 525.0C338.7 531.7 346.7 545.8 350.0 550.0" fill="none" stroke="#a13a4a" stroke-width="5"/>
<path d="M300.0 470.0C306.7 471.7 330.0 475.0 340.0 480.0C350.0 485.0 356.7 496.7 360.0 500.0" fill="none" stroke="#a13a4a" stroke-width="5"/>
<path d="M420.0 470.0C420.8 476.7 425.0 496.7 425.0 510.0C425.0 523.3 420.8 543.3 420.0 550.0" fill="none" stroke="#a13a4a" stroke-width="7"/>
<path d="M422.0 500.0C426.7 500.8 440.3 501.7 450.0 505.0C459.7 508.3 475.0 517.5 480.0 520.0" fill="none" stroke="#a13a4a" stroke-width="5"/>
<path d="M421.0 520.0C416.7 522.5 401.8 529.2 395.0 535.0C388.2 540.8 382.5 551.7 380.0 555.0" fill="none" stroke="#a13a4a" stroke-width="5"/>
<path d="M270.0 60.0C275.0 62.5 290.0 75.0 300.0 75.0C310.0 75.0 322.5 66.7 330.0 60.0C337.5 53.3 342.5 39.2 345.0 35.0" fill="none" stroke="#a13a4a" stroke-width="5"/>
<path d="M300.0 75.0C301.7 80.8 310.0 99.2 310.0 110.0C310.0 120.8 301.7 135.0 300.0 140.0" fill="none" stroke="#a13a4a" stroke-width="5"/>
<path d="M330.0 100.0C333.3 103.3 341.7 116.7 350.0 120.0C358.3 123.3 375.0 120.0 380.0 120.0" fill="none" stroke="#a13a4a" stroke-width="5"/>
<path d="M380.0 40.0C382.5 45.0 389.2 62.5 395.0 70.0C400.8 77.5 411.7 82.5 415.0 85.0" fill="none" stroke="#a13a4a" stroke-width="5"/>
<path d="M255.4 76.6C257.1 72.9 261.5 61.6 265.2 54.1C269.0 46.6 274.6 38.4 278.0 31.6C281.4 24.7 284.2 15.9 285.5 12.8" fill="none" stroke="#ee8d94" stroke-width="3.4"/>
<path d="M270.5 45.1C276.5 45.3 295.5 49.8 306.5 46.6C317.6 43.3 331.6 29.1 336.6 25.5" fill="none" stroke="#ee8d94" stroke-width="2.0"/>
<path d="M265.2 55.6C259.6 54.3 241.4 50.1 231.4 48.1C221.4 46.1 209.5 44.3 205.1 43.6" fill="none" stroke="#ee8d94" stroke-width="2.0"/>
<path d="M278.0 31.6C281.5 29.7 293.0 22.8 299.0 20.3C305.0 17.8 311.5 17.2 314.0 16.5" fill="none" stroke="#ee8d94" stroke-width="2.0"/>
<path d="M420.7 82.6C418.6 77.6 413.8 60.9 408.0 52.6C402.1 44.3 394.8 37.8 385.4 33.1C376.0 28.3 357.2 25.5 351.6 24.0" fill="none" stroke="#ee8d94" stroke-width="3.4"/>
<path d="M410.2 57.1C410.7 54.1 411.1 43.3 413.2 39.1C415.3 34.8 421.4 32.8 423.0 31.6" fill="none" stroke="#ee8d94" stroke-width="2.0"/>
<path d="M396.7 40.6C392.9 43.1 379.8 52.3 374.1 55.6C368.5 58.9 364.8 59.4 362.9 60.1" fill="none" stroke="#ee8d94" stroke-width="2.0"/>
<path d="M329.1 165.3C328.1 159.9 324.9 144.0 323.1 133.0C321.2 122.0 318.7 104.8 317.8 99.2" fill="none" stroke="#ee8d94" stroke-width="3.4"/>
<path d="M324.6 138.2C319.7 136.2 303.0 127.7 295.3 126.2C287.5 124.7 280.9 128.7 278.0 129.2" fill="none" stroke="#ee8d94" stroke-width="2.0"/>
<path d="M322.3 130.7C328.4 128.2 348.6 119.0 359.1 115.7C369.6 112.4 381.0 111.9 385.4 111.2" fill="none" stroke="#ee8d94" stroke-width="2.0"/>
<path d="M320.1 114.2C317.6 111.4 308.3 101.7 305.0 97.7C301.8 93.7 301.3 91.4 300.5 90.2" fill="none" stroke="#ee8d94" stroke-width="2.0"/>
<path d="M366.6 99.2C365.6 102.3 363.1 110.4 360.6 118.0C358.1 125.5 353.1 139.9 351.6 144.2" fill="none" stroke="#ee8d94" stroke-width="2.0"/>
<path d="M336.6 168.3C341.6 167.8 356.6 165.8 366.6 165.3C376.7 164.8 386.7 164.3 396.7 165.3C406.7 166.3 421.7 170.3 426.7 171.3" fill="none" stroke="#ee8d94" stroke-width="3.4"/>
<path d="M366.6 168.3C370.4 174.9 382.3 195.2 389.2 208.1C396.1 221.0 404.8 239.4 408.0 245.7" fill="none" stroke="#ee8d94" stroke-width="3.4"/>
<path d="M351.6 174.3C354.1 179.3 362.9 196.8 366.6 204.4C370.4 211.9 372.9 216.9 374.1 219.4" fill="none" stroke="#ee8d94" stroke-width="2.0"/>
<path d="M381.7 190.8C386.0 190.8 401.7 188.6 408.0 190.8C414.2 193.1 417.3 202.1 419.2 204.4" fill="none" stroke="#ee8d94" stroke-width="2.0"/>
<path d="M28.5 181.8C34.8 179.1 52.3 167.5 66.1 165.3C79.9 163.0 95.5 168.7 111.2 168.3C126.8 167.9 151.9 163.9 160.0 163.0" fill="none" stroke="#ee8d94" stroke-width="3.4"/>
<path d="M58.6 136.7C63.6 141.1 78.6 154.0 88.7 163.0C98.7 172.0 113.7 186.2 118.7 190.8" fill="none" stroke="#ee8d94" stroke-width="3.4"/>
<path d="M73.6 129.2C77.4 131.7 85.5 139.9 96.2 144.2C106.8 148.6 130.6 153.6 137.5 155.5" fill="none" stroke="#ee8d94" stroke-width="2.0"/>
<path d="M32.3 211.9C36.1 208.4 49.5 197.6 54.8 190.8C60.2 184.1 63.0 174.6 64.6 171.3" fill="none" stroke="#ee8d94" stroke-width="2.0"/>
<path d="M51.1 144.2C53.6 150.5 64.6 169.3 66.1 181.8C67.6 194.3 61.1 213.1 60.1 219.4" fill="none" stroke="#ee8d94" stroke-width="2.0"/>
<path d="M21.0 272.0C28.5 271.3 51.1 267.6 66.1 268.2C81.1 268.8 96.4 275.1 111.2 275.7C126.0 276.4 147.5 272.6 154.8 272.0" fill="none" stroke="#ee8d94" stroke-width="3.4"/>
<path d="M73.6 253.2C78.6 254.4 94.9 256.3 103.7 260.7C112.4 265.1 122.5 276.4 126.2 279.5" fill="none" stroke="#ee8d94" stroke-width="2.0"/>
<path d="M111.2 275.7C110.6 281.4 109.3 300.8 107.4 309.5C105.6 318.3 101.2 325.2 99.9 328.3" fill="none" stroke="#ee8d94" stroke-width="2.0"/>
<path d="M154.8 272.0C160.0 273.8 175.4 282.2 186.3 283.2C197.2 284.2 214.5 278.9 220.1 278.0" fill="none" stroke="#ee8d94" stroke-width="2.0"/>
<path d="M163.8 287.0C168.2 284.7 181.3 272.2 190.1 273.5C198.8 274.7 212.0 291.0 216.4 294.5" fill="none" stroke="#ee8d94" stroke-width="2.0"/>
<path d="M306.5 279.5C311.5 279.2 326.6 280.2 336.6 278.0C346.6 275.7 356.6 267.0 366.6 266.0C376.7 265.0 391.7 271.0 396.7 272.0" fill="none" stroke="#ee8d94" stroke-width="3.4"/>
<path d="M317.8 283.2C320.9 287.6 328.4 300.1 336.6 309.5C344.7 318.9 361.6 334.6 366.6 339.6" fill="none" stroke="#ee8d94" stroke-width="3.4"/>
<path d="M336.6 309.5C334.1 313.3 329.1 327.7 321.6 332.1C314.0 336.5 296.5 335.2 291.5 335.8" fill="none" stroke="#ee8d94" stroke-width="2.0"/>
<path d="M351.6 324.6C356.6 324.6 375.4 326.4 381.7 324.6C387.9 322.7 387.9 315.2 389.2 313.3" fill="none" stroke="#ee8d94" stroke-width="2.0"/>
<path d="M329.1 279.5C325.3 277.2 312.8 268.7 306.5 266.0C300.3 263.2 294.0 263.5 291.5 263.0" fill="none" stroke="#ee8d94" stroke-width="2.0"/>
<path d="M513.1 309.5C517.5 307.0 528.8 300.8 539.4 294.5C550.1 288.2 570.7 275.7 577.0 272.0" fill="none" stroke="#ee8d94" stroke-width="3.4"/>
<path d="M513.1 309.5C518.8 310.8 536.3 314.5 546.9 317.0C557.6 319.6 572.0 323.3 577.0 324.6" fill="none" stroke="#ee8d94" stroke-width="3.4"/>
<path d="M531.9 298.3C534.4 292.6 545.1 273.8 546.9 264.5C548.8 255.1 543.8 245.7 543.2 241.9" fill="none" stroke="#ee8d94" stroke-width="2.0"/>
<path d="M524.4 317.0C526.9 322.1 537.6 339.0 539.4 347.1C541.3 355.2 536.3 362.8 535.7 365.9" fill="none" stroke="#ee8d94" stroke-width="2.0"/>
<path d="M546.9 290.8C550.7 291.4 564.5 294.5 569.5 294.5C574.5 294.5 575.7 291.4 577.0 290.8" fill="none" stroke="#ee8d94" stroke-width="2.0"/>
<path d="M265.2 369.6C267.1 372.1 272.1 377.2 276.5 384.7C280.9 392.2 289.0 409.7 291.5 414.7" fill="none" stroke="#ee8d94" stroke-width="2.0"/>
<path d="M272.7 384.7C277.1 387.2 293.4 394.7 299.0 399.7C304.7 404.7 305.3 412.2 306.5 414.7" fill="none" stroke="#ee8d94" stroke-width="2.0"/>
<path d="M156.3 384.7C158.8 389.7 169.4 399.7 171.3 414.7C173.2 429.7 168.2 464.8 167.5 474.8" fill="none" stroke="#ee8d94" stroke-width="3.4"/>
<path d="M163.8 444.8C170.0 446.0 191.3 447.3 201.3 452.3C211.4 457.3 220.1 471.1 223.9 474.8" fill="none" stroke="#ee8d94" stroke-width="2.0"/>
<path d="M291.5 429.7C292.8 437.3 299.0 459.8 299.0 474.8C299.0 489.8 294.6 504.9 291.5 519.9C288.4 534.9 282.1 557.5 280.2 565.0" fill="none" stroke="#ee8d94" stroke-width="3.4"/>
<path d="M295.3 489.8C289.6 493.6 269.6 504.9 261.5 512.4C253.3 519.9 248.9 531.2 246.4 534.9" fill="none" stroke="#ee8d94" stroke-width="2.0"/>
<path d="M293.0 519.9C299.0 522.4 319.3 527.4 329.1 534.9C338.8 542.4 347.9 560.0 351.6 565.0" fill="none" stroke="#ee8d94" stroke-width="2.0"/>
<path d="M287.7 542.4C278.4 543.1 247.1 547.4 231.4 546.2C215.7 544.9 200.1 536.8 193.8 534.9" fill="none" stroke="#ee8d94" stroke-width="2.0"/>
<path d="M299.0 474.8C304.0 476.7 321.6 479.8 329.1 486.1C336.6 492.4 341.6 508.0 344.1 512.4" fill="none" stroke="#ee8d94" stroke-width="2.0"/>
<path d="M396.7 444.8C400.4 451.0 414.7 467.3 419.2 482.3C423.7 497.4 423.7 518.6 423.7 534.9C423.7 551.2 420.0 572.5 419.2 580.0" fill="none" stroke="#ee8d94" stroke-width="3.4"/>
<path d="M422.2 519.9C428.0 519.9 446.0 517.4 456.8 519.9C467.6 522.4 481.8 532.4 486.8 534.9" fill="none" stroke="#ee8d94" stroke-width="2.0"/>
<path d="M422.2 550.0C418.0 552.5 403.4 560.0 396.7 565.0C389.9 570.0 384.2 577.5 381.7 580.0" fill="none" stroke="#ee8d94" stroke-width="2.0"/>
<path d="M420.7 512.4C415.5 511.1 396.9 509.9 389.2 504.9C381.4 499.9 376.7 486.1 374.1 482.3" fill="none" stroke="#ee8d94" stroke-width="2.0"/>
<path d="M501.9 414.7C504.4 421.0 509.4 442.3 516.9 452.3C524.4 462.3 541.9 471.1 546.9 474.8" fill="none" stroke="#ee8d94" stroke-width="3.4"/>
<path d="M520.0 250.0C524.2 248.3 535.5 244.2 545.0 240.0C554.5 235.8 571.7 227.5 577.0 225.0" fill="none" stroke="#ee8d94" stroke-width="3.4"/>
<path d="M520.0 250.0C524.7 252.0 538.5 258.7 548.0 262.0C557.5 265.3 572.2 268.7 577.0 270.0" fill="none" stroke="#ee8d94" stroke-width="3.4"/>
<path d="M535.0 245.0C537.2 240.0 546.3 223.3 548.0 215.0C549.7 206.7 545.5 198.3 545.0 195.0" fill="none" stroke="#ee8d94" stroke-width="2.0"/>
<path d="M532.0 258.0C534.7 263.3 545.8 281.0 548.0 290.0C550.2 299.0 545.5 308.3 545.0 312.0" fill="none" stroke="#ee8d94" stroke-width="2.0"/>
<path d="M548.0 240.0C550.8 241.7 560.2 248.7 565.0 250.0C569.8 251.3 575.0 248.3 577.0 248.0" fill="none" stroke="#ee8d94" stroke-width="2.0"/>
<path d="M510.0 300.0C513.3 303.3 521.7 314.2 530.0 320.0C538.3 325.8 555.0 332.5 560.0 335.0" fill="none" stroke="#ee8d94" stroke-width="2.0"/>
<path d="M505.0 330.0C507.5 335.0 518.3 350.8 520.0 360.0C521.7 369.2 515.8 380.8 515.0 385.0" fill="none" stroke="#ee8d94" stroke-width="2.0"/>
<path d="M40.0 160.0C45.0 158.3 58.3 150.0 70.0 150.0C81.7 150.0 96.7 160.0 110.0 160.0C123.3 160.0 143.3 151.7 150.0 150.0" fill="none" stroke="#ee8d94" stroke-width="3.4"/>
<path d="M60.0 130.0C64.2 135.0 78.3 150.0 85.0 160.0C91.7 170.0 97.5 185.0 100.0 190.0" fill="none" stroke="#ee8d94" stroke-width="2.0"/>
<path d="M45.0 190.0C49.2 188.3 61.7 180.8 70.0 180.0C78.3 179.2 90.8 184.2 95.0 185.0" fill="none" stroke="#ee8d94" stroke-width="2.0"/>
<path d="M75.0 120.0C79.2 122.5 90.8 132.5 100.0 135.0C109.2 137.5 125.0 135.0 130.0 135.0" fill="none" stroke="#ee8d94" stroke-width="2.0"/>
<path d="M30.0 270.0C35.0 270.8 48.3 275.0 60.0 275.0C71.7 275.0 85.0 270.0 100.0 270.0C115.0 270.0 141.7 274.2 150.0 275.0" fill="none" stroke="#ee8d94" stroke-width="2.0"/>
<path d="M100.0 270.0C101.7 274.2 110.0 287.5 110.0 295.0C110.0 302.5 101.7 311.7 100.0 315.0" fill="none" stroke="#ee8d94" stroke-width="2.0"/>
<path d="M165.0 215.0C170.8 216.7 188.3 218.3 200.0 225.0C211.7 231.7 229.2 250.0 235.0 255.0" fill="none" stroke="#ee8d94" stroke-width="2.0"/>
<path d="M230.0 250.0C235.3 249.3 250.3 246.0 262.0 246.0C273.7 246.0 293.7 249.3 300.0 250.0" fill="none" stroke="#ee8d94" stroke-width="2.0"/>
<path d="M300.0 170.0C305.0 169.2 318.3 166.7 330.0 165.0C341.7 163.3 356.7 159.2 370.0 160.0C383.3 160.8 403.3 168.3 410.0 170.0" fill="none" stroke="#ee8d94" stroke-width="3.4"/>
<path d="M370.0 160.0C372.5 166.7 380.0 187.5 385.0 200.0C390.0 212.5 397.5 229.2 400.0 235.0" fill="none" stroke="#ee8d94" stroke-width="2.0"/>
<path d="M345.0 165.0C346.7 169.2 350.8 181.7 355.0 190.0C359.2 198.3 367.5 210.8 370.0 215.0" fill="none" stroke="#ee8d94" stroke-width="2.0"/>
<path d="M310.0 255.0C315.0 254.2 328.3 251.2 340.0 250.0C351.7 248.8 373.3 248.3 380.0 248.0" fill="none" stroke="#ee8d94" stroke-width="2.0"/>
<path d="M345.0 300.0C349.2 303.3 360.8 314.2 370.0 320.0C379.2 325.8 395.0 332.5 400.0 335.0" fill="none" stroke="#ee8d94" stroke-width="2.0"/>
<path d="M320.0 320.0C325.0 316.7 340.0 305.0 350.0 300.0C360.0 295.0 375.0 291.7 380.0 290.0" fill="none" stroke="#ee8d94" stroke-width="2.0"/>
<path d="M268.0 370.0C270.0 373.3 274.7 380.0 280.0 390.0C285.3 400.0 296.7 423.3 300.0 430.0" fill="none" stroke="#ee8d94" stroke-width="2.0"/>
<path d="M275.0 385.0C279.2 387.5 294.2 394.2 300.0 400.0C305.8 405.8 308.3 416.7 310.0 420.0" fill="none" stroke="#ee8d94" stroke-width="2.0"/>
<path d="M262.0 380.0C260.0 384.2 251.2 395.8 250.0 405.0C248.8 414.2 254.2 430.0 255.0 435.0" fill="none" stroke="#ee8d94" stroke-width="2.0"/>
<path d="M160.0 390.0C162.5 395.0 173.3 406.7 175.0 420.0C176.7 433.3 170.8 461.7 170.0 470.0" fill="none" stroke="#ee8d94" stroke-width="2.0"/>
<path d="M120.0 480.0C125.0 483.3 138.3 496.7 150.0 500.0C161.7 503.3 183.3 500.0 190.0 500.0" fill="none" stroke="#ee8d94" stroke-width="2.0"/>
<path d="M140.0 470.0C141.7 478.3 150.0 507.5 150.0 520.0C150.0 532.5 141.7 540.8 140.0 545.0" fill="none" stroke="#ee8d94" stroke-width="2.0"/>
<path d="M240.0 470.0C241.7 476.7 250.0 495.0 250.0 510.0C250.0 525.0 241.7 551.7 240.0 560.0" fill="none" stroke="#ee8d94" stroke-width="2.0"/>
<path d="M295.0 450.0C295.8 458.3 300.0 481.7 300.0 500.0C300.0 518.3 295.8 550.0 295.0 560.0" fill="none" stroke="#ee8d94" stroke-width="3.4"/>
<path d="M298.0 490.0C293.3 493.3 278.0 503.3 270.0 510.0C262.0 516.7 253.3 526.7 250.0 530.0" fill="none" stroke="#ee8d94" stroke-width="2.0"/>
<path d="M298.0 510.0C303.3 512.5 321.3 518.3 330.0 525.0C338.7 531.7 346.7 545.8 350.0 550.0" fill="none" stroke="#ee8d94" stroke-width="2.0"/>
<path d="M300.0 470.0C306.7 471.7 330.0 475.0 340.0 480.0C350.0 485.0 356.7 496.7 360.0 500.0" fill="none" stroke="#ee8d94" stroke-width="2.0"/>
<path d="M420.0 470.0C420.8 476.7 425.0 496.7 425.0 510.0C425.0 523.3 420.8 543.3 420.0 550.0" fill="none" stroke="#ee8d94" stroke-width="3.4"/>
<path d="M422.0 500.0C426.7 500.8 440.3 501.7 450.0 505.0C459.7 508.3 475.0 517.5 480.0 520.0" fill="none" stroke="#ee8d94" stroke-width="2.0"/>
<path d="M421.0 520.0C416.7 522.5 401.8 529.2 395.0 535.0C388.2 540.8 382.5 551.7 380.0 555.0" fill="none" stroke="#ee8d94" stroke-width="2.0"/>
<path d="M270.0 60.0C275.0 62.5 290.0 75.0 300.0 75.0C310.0 75.0 322.5 66.7 330.0 60.0C337.5 53.3 342.5 39.2 345.0 35.0" fill="none" stroke="#ee8d94" stroke-width="2.0"/>
<path d="M300.0 75.0C301.7 80.8 310.0 99.2 310.0 110.0C310.0 120.8 301.7 135.0 300.0 140.0" fill="none" stroke="#ee8d94" stroke-width="2.0"/>
<path d="M330.0 100.0C333.3 103.3 341.7 116.7 350.0 120.0C358.3 123.3 375.0 120.0 380.0 120.0" fill="none" stroke="#ee8d94" stroke-width="2.0"/>
<path d="M380.0 40.0C382.5 45.0 389.2 62.5 395.0 70.0C400.8 77.5 411.7 82.5 415.0 85.0" fill="none" stroke="#ee8d94" stroke-width="2.0"/>
<g transform="rotate(-12 218 188)"><ellipse cx="218" cy="188" rx="33" ry="42" fill="#873243" stroke="#7a2c3c" stroke-width="2.4"/><ellipse cx="223.61" cy="186.32" rx="23.1" ry="33.6" fill="#a8505f"/></g>
<g transform="rotate(20 440 190)"><ellipse cx="440" cy="190" rx="39" ry="38" fill="#873243" stroke="#7a2c3c" stroke-width="2.4"/><ellipse cx="446.63" cy="188.48" rx="27.3" ry="30.4" fill="#a8505f"/></g>
<g transform="rotate(-10 82 332)"><ellipse cx="82" cy="332" rx="44" ry="32" fill="#873243" stroke="#7a2c3c" stroke-width="2.4"/><ellipse cx="89.48" cy="330.72" rx="30.8" ry="25.6" fill="#a8505f"/></g>
<g transform="rotate(0 268 405)"><ellipse cx="268" cy="405" rx="35" ry="44" fill="#873243" stroke="#7a2c3c" stroke-width="2.4"/><ellipse cx="273.95" cy="403.24" rx="24.5" ry="35.2" fill="#a8505f"/></g>
<g transform="rotate(-8 445 407)"><ellipse cx="445" cy="407" rx="33" ry="42" fill="#873243" stroke="#7a2c3c" stroke-width="2.4"/><ellipse cx="450.61" cy="405.32" rx="23.1" ry="33.6" fill="#a8505f"/></g>
</g></g>
<g clip-path="url(#cMuscle)">
<rect x="91" y="301" width="189" height="189" fill="#c93323"/>
<rect x="85.7" y="301" width="9" height="189" fill="#df4f38"/>
<rect x="103.8" y="301" width="9" height="189" fill="#df4f38"/>
<rect x="121.9" y="301" width="9" height="189" fill="#df4f38"/>
<rect x="140.0" y="301" width="9" height="189" fill="#df4f38"/>
<rect x="158.1" y="301" width="9" height="189" fill="#df4f38"/>
<rect x="176.2" y="301" width="9" height="189" fill="#df4f38"/>
<rect x="194.3" y="301" width="9" height="189" fill="#df4f38"/>
<rect x="212.4" y="301" width="9" height="189" fill="#df4f38"/>
<rect x="230.5" y="301" width="9" height="189" fill="#df4f38"/>
<rect x="248.6" y="301" width="9" height="189" fill="#df4f38"/>
<rect x="266.7" y="301" width="9" height="189" fill="#df4f38"/>
<polygon points="90.0,300.6 266.0,300.6 262.0,306.1 90.0,306.1" fill="#b81a12" fill-opacity="0.7"/>
<polygon points="160.0,321.5 280.0,321.5 280.0,327.0 172.0,327.0 134.0,341.0 126.0,340.5 126.0,336.5" fill="#b81a12" fill-opacity="0.7"/>
<polygon points="126.0,340.5 142.5,333.0 184.0,333.0 180.0,340.5" fill="#b81a12" fill-opacity="0.7"/>
<polygon points="90.0,352.5 178.0,352.5 184.0,356.0 178.0,361.0 90.0,361.0" fill="#b81a12" fill-opacity="0.7"/>
<polygon points="205.0,356.5 285.0,356.5 285.0,362.5 214.0,362.5 166.0,378.5 155.0,378.5 160.0,373.0" fill="#b81a12" fill-opacity="0.7"/>
<polygon points="202.0,337.0 242.0,337.0 236.0,340.5 196.0,340.5" fill="#b81a12" fill-opacity="0.7"/>
<polygon points="90.0,375.0 144.0,375.0 144.0,379.5 90.0,379.5" fill="#b81a12" fill-opacity="0.7"/>
<polygon points="159.0,375.5 285.0,375.5 285.0,380.0 159.0,380.0" fill="#b81a12" fill-opacity="0.7"/>
<polygon points="90.0,394.5 285.0,394.5 285.0,400.0 90.0,400.0" fill="#b81a12" fill-opacity="0.7"/>
<polygon points="90.0,414.0 266.0,414.0 262.0,419.5 90.0,419.5" fill="#b81a12" fill-opacity="0.7"/>
<polygon points="160.0,434.9 280.0,434.9 280.0,440.4 172.0,440.4 134.0,454.4 126.0,453.9 126.0,449.9" fill="#b81a12" fill-opacity="0.7"/>
<polygon points="126.0,453.9 142.5,446.4 184.0,446.4 180.0,453.9" fill="#b81a12" fill-opacity="0.7"/>
<polygon points="90.0,465.9 178.0,465.9 184.0,469.4 178.0,474.4 90.0,474.4" fill="#b81a12" fill-opacity="0.7"/>
<polygon points="205.0,469.9 285.0,469.9 285.0,475.9 214.0,475.9 166.0,491.9 155.0,491.9 160.0,486.4" fill="#b81a12" fill-opacity="0.7"/>
<polygon points="202.0,450.4 242.0,450.4 236.0,453.9 196.0,453.9" fill="#b81a12" fill-opacity="0.7"/>
<polygon points="90.0,488.4 144.0,488.4 144.0,492.9 90.0,492.9" fill="#b81a12" fill-opacity="0.7"/>
<polygon points="159.0,488.9 285.0,488.9 285.0,493.4 159.0,493.4" fill="#b81a12" fill-opacity="0.7"/>
<ellipse cx="150.4" cy="314.0" rx="13.6" ry="4.6" fill="#7c1c1a"/>
<ellipse cx="150.4" cy="314.9" rx="12.6" ry="3.4" fill="#9a2a24"/>
<ellipse cx="262.75" cy="312.8" rx="13.6" ry="4.6" fill="#7c1c1a"/>
<ellipse cx="262.75" cy="313.7" rx="12.6" ry="3.4" fill="#9a2a24"/>
<ellipse cx="206.5" cy="329.8" rx="13.6" ry="4.6" fill="#7c1c1a"/>
<ellipse cx="206.5" cy="330.6" rx="12.6" ry="3.4" fill="#9a2a24"/>
<ellipse cx="206.5" cy="348.9" rx="13.6" ry="4.6" fill="#7c1c1a"/>
<ellipse cx="206.5" cy="349.8" rx="12.6" ry="3.4" fill="#9a2a24"/>
<ellipse cx="110.25" cy="370.5" rx="13.6" ry="4.6" fill="#7c1c1a"/>
<ellipse cx="110.25" cy="371.4" rx="12.6" ry="3.4" fill="#9a2a24"/>
<ellipse cx="110.25" cy="390.2" rx="13.6" ry="4.6" fill="#7c1c1a"/>
<ellipse cx="110.25" cy="391.1" rx="12.6" ry="3.4" fill="#9a2a24"/>
<ellipse cx="235.75" cy="370.5" rx="13.6" ry="4.6" fill="#7c1c1a"/>
<ellipse cx="235.75" cy="371.4" rx="12.6" ry="3.4" fill="#9a2a24"/>
<ellipse cx="235.75" cy="390.2" rx="13.6" ry="4.6" fill="#7c1c1a"/>
<ellipse cx="235.75" cy="391.1" rx="12.6" ry="3.4" fill="#9a2a24"/>
<ellipse cx="150.4" cy="408.5" rx="13.6" ry="4.6" fill="#7c1c1a"/>
<ellipse cx="150.4" cy="409.4" rx="12.6" ry="3.4" fill="#9a2a24"/>
<ellipse cx="150.4" cy="427.4" rx="13.6" ry="4.6" fill="#7c1c1a"/>
<ellipse cx="150.4" cy="428.3" rx="12.6" ry="3.4" fill="#9a2a24"/>
<ellipse cx="262.75" cy="407.4" rx="13.6" ry="4.6" fill="#7c1c1a"/>
<ellipse cx="262.75" cy="408.3" rx="12.6" ry="3.4" fill="#9a2a24"/>
<ellipse cx="262.75" cy="426.2" rx="13.6" ry="4.6" fill="#7c1c1a"/>
<ellipse cx="262.75" cy="427.1" rx="12.6" ry="3.4" fill="#9a2a24"/>
<ellipse cx="109" cy="351.0" rx="13.6" ry="4.6" fill="#7c1c1a"/>
<ellipse cx="109" cy="351.9" rx="12.6" ry="3.4" fill="#9a2a24"/>
<ellipse cx="206.5" cy="443.1" rx="13.6" ry="4.6" fill="#7c1c1a"/>
<ellipse cx="206.5" cy="444.0" rx="12.6" ry="3.4" fill="#9a2a24"/>
<ellipse cx="206.5" cy="462.3" rx="13.6" ry="4.6" fill="#7c1c1a"/>
<ellipse cx="206.5" cy="463.2" rx="12.6" ry="3.4" fill="#9a2a24"/>
<ellipse cx="110.25" cy="483.9" rx="13.6" ry="4.6" fill="#7c1c1a"/>
<ellipse cx="110.25" cy="484.8" rx="12.6" ry="3.4" fill="#9a2a24"/>
<ellipse cx="235.75" cy="483.9" rx="13.6" ry="4.6" fill="#7c1c1a"/>
<ellipse cx="235.75" cy="484.8" rx="12.6" ry="3.4" fill="#9a2a24"/>
<ellipse cx="109" cy="464.4" rx="13.6" ry="4.6" fill="#7c1c1a"/>
<ellipse cx="109" cy="465.3" rx="12.6" ry="3.4" fill="#9a2a24"/>
<ellipse cx="109" cy="443.8" rx="13.6" ry="4.6" fill="#7c1c1a"/>
</g>
<circle cx="185.3" cy="396" r="92.7" fill="none" stroke="#b3261a" stroke-width="0.8"/>
<g clip-path="url(#cBlood)">
<rect x="317" y="354" width="189" height="189" fill="#8a0610"/>
<ellipse cx="377.5" cy="518.0" rx="20.0" ry="22.0" fill="#7a0410"/>
<ellipse cx="463.0" cy="529.0" rx="36.0" ry="24.0" transform="rotate(-18 463 529)" fill="#a0050e" stroke="#7d0008" stroke-width="1"/><ellipse cx="462.5" cy="526.0" rx="34.8" ry="21.2" transform="rotate(-18 462.5 526.0)" fill="#c90d17"/><ellipse cx="462.5" cy="526.0" rx="32.4" ry="18.6" transform="rotate(-18 462.5 526.0)" fill="none" stroke="#f0323a" stroke-width="2.2" stroke-linecap="round" stroke-opacity="0.85" pathLength="100" stroke-dasharray="0 55 18 27"/><ellipse cx="461.0" cy="523.0" rx="24.0" ry="13.0" transform="rotate(-18 461 523)" fill="#6c0009"/><ellipse cx="462.5" cy="525.6" rx="21.6" ry="10.1" transform="rotate(-18 462.5 525.6)" fill="#930718"/>
<ellipse cx="345.0" cy="493.0" rx="33.0" ry="30.0" fill="#a0050e" stroke="#7d0008" stroke-width="1"/><ellipse cx="344.5" cy="490.0" rx="31.8" ry="27.2" fill="#c90d17"/><ellipse cx="344.5" cy="490.0" rx="29.4" ry="24.6" fill="none" stroke="#f0323a" stroke-width="2.2" stroke-linecap="round" stroke-opacity="0.85" pathLength="100" stroke-dasharray="0 52 20 28"/><ellipse cx="338.0" cy="488.0" rx="21.0" ry="18.0" fill="#6c0009"/><ellipse cx="339.5" cy="491.6" rx="18.9" ry="14.0" fill="#930718"/>
<ellipse cx="447.5" cy="422.0" rx="43.5" ry="29.5" fill="#a0050e" stroke="#7d0008" stroke-width="1"/><ellipse cx="447.0" cy="419.0" rx="42.3" ry="26.8" fill="#c90d17"/><ellipse cx="447.0" cy="419.0" rx="39.9" ry="24.1" fill="none" stroke="#f0323a" stroke-width="2.2" stroke-linecap="round" stroke-opacity="0.85" pathLength="100" stroke-dasharray="0 88 10 2"/><ellipse cx="442.5" cy="417.5" rx="34.0" ry="15.5" fill="#6c0009"/><ellipse cx="444.0" cy="420.6" rx="30.6" ry="12.1" fill="#930718"/>
<ellipse cx="474.0" cy="476.0" rx="33.0" ry="36.0" transform="rotate(20 474 476)" fill="#a0050e" stroke="#7d0008" stroke-width="1"/><ellipse cx="473.5" cy="473.0" rx="31.8" ry="33.2" transform="rotate(20 473.5 473.0)" fill="#c90d17"/><ellipse cx="473.5" cy="473.0" rx="29.4" ry="30.6" transform="rotate(20 473.5 473.0)" fill="none" stroke="#f0323a" stroke-width="2.2" stroke-linecap="round" stroke-opacity="0.85" pathLength="100" stroke-dasharray="0 50 24 26"/><ellipse cx="480.0" cy="469.5" rx="26.0" ry="19.0" transform="rotate(-12 480 469.5)" fill="#6c0009"/><ellipse cx="481.5" cy="473.3" rx="23.4" ry="14.8" transform="rotate(-12 481.5 473.3)" fill="#930718"/>
<ellipse cx="412.5" cy="461.0" rx="38.5" ry="26.0" transform="rotate(-5 412.5 461)" fill="#a0050e" stroke="#7d0008" stroke-width="1"/><ellipse cx="412.0" cy="458.6" rx="37.3" ry="23.8" transform="rotate(-5 412.0 458.6)" fill="#c90d17"/><ellipse cx="412.0" cy="458.6" rx="34.9" ry="21.2" transform="rotate(-5 412.0 458.6)" fill="none" stroke="#f0323a" stroke-width="2.2" stroke-linecap="round" stroke-opacity="0.85" pathLength="100" stroke-dasharray="0 62 22 16"/><ellipse cx="406.5" cy="463.0" rx="31.0" ry="18.0" transform="rotate(-8 406.5 463)" fill="#6c0009"/><ellipse cx="408.0" cy="466.6" rx="27.9" ry="14.0" transform="rotate(-8 408.0 466.6)" fill="#930718"/>
<ellipse cx="420.0" cy="501.0" rx="31.0" ry="40.0" transform="rotate(30 420 501)" fill="#a0050e" stroke="#7d0008" stroke-width="1"/><ellipse cx="419.5" cy="498.0" rx="29.8" ry="37.2" transform="rotate(30 419.5 498.0)" fill="#c90d17"/><ellipse cx="419.5" cy="498.0" rx="27.4" ry="34.6" transform="rotate(30 419.5 498.0)" fill="none" stroke="#f0323a" stroke-width="2.2" stroke-linecap="round" stroke-opacity="0.85" pathLength="100" stroke-dasharray="0 45 25 30"/><ellipse cx="424.5" cy="504.5" rx="18.5" ry="30.0" transform="rotate(32 424.5 504.5)" fill="#6c0009"/><ellipse cx="426.0" cy="510.5" rx="16.7" ry="23.4" transform="rotate(32 426.0 510.5)" fill="#930718"/>
<ellipse cx="422.0" cy="381.5" rx="49.0" ry="30.5" fill="#a0050e" stroke="#7d0008" stroke-width="1"/><ellipse cx="421.5" cy="377.9" rx="47.8" ry="27.2" fill="#c90d17"/><ellipse cx="421.5" cy="377.9" rx="45.4" ry="24.6" fill="none" stroke="#f0323a" stroke-width="2.2" stroke-linecap="round" stroke-opacity="0.85" pathLength="100" stroke-dasharray="0 92 12 -4"/><ellipse cx="419.7" cy="373.2" rx="36.0" ry="19.3" fill="#6c0009"/><ellipse cx="421.2" cy="377.1" rx="32.4" ry="15.1" fill="#930718"/>
<ellipse cx="363.8" cy="424.0" rx="44.0" ry="45.5" transform="rotate(30 363.75 424)" fill="#a0050e" stroke="#7d0008" stroke-width="1"/><ellipse cx="363.2" cy="421.0" rx="42.8" ry="42.8" transform="rotate(30 363.25 421.0)" fill="#c90d17"/><ellipse cx="363.2" cy="421.0" rx="40.4" ry="40.1" transform="rotate(30 363.25 421.0)" fill="none" stroke="#f0323a" stroke-width="2.2" stroke-linecap="round" stroke-opacity="0.85" pathLength="100" stroke-dasharray="0 42 24 34"/><ellipse cx="359.5" cy="421.5" rx="20.5" ry="33.0" transform="rotate(35 359.5 421.5)" fill="#6c0009"/><ellipse cx="361.0" cy="428.1" rx="18.4" ry="25.7" transform="rotate(35 361.0 428.1)" fill="#930718"/>
</g>
<g clip-path="url(#cIntest)">
<rect x="537" y="301" width="189" height="189" fill="#ee826b"/>
<path d="M532.8 258.2H591.5V308.8Q591.5 317.8 581.5 317.8Q562.0 320.0 542.8 317.8Q532.8 317.8 532.8 308.8Z" fill="#f7aba0"/>
<path d="M532.8 328.2H591.5V378.8Q591.5 387.8 581.5 387.8Q562.0 390.0 542.8 387.8Q532.8 387.8 532.8 378.8Z" fill="#f7aba0"/>
<path d="M532.8 398.2H591.5V448.8Q591.5 457.8 581.5 457.8Q562.0 460.0 542.8 457.8Q532.8 457.8 532.8 448.8Z" fill="#f7aba0"/>
<path d="M532.8 468.2H591.5V518.8Q591.5 527.8 581.5 527.8Q562.0 530.0 542.8 527.8Q532.8 527.8 532.8 518.8Z" fill="#f7aba0"/>
<path d="M602.8 258.2H661.5V308.8Q661.5 317.8 651.5 317.8Q632.0 320.0 612.8 317.8Q602.8 317.8 602.8 308.8Z" fill="#f7aba0"/>
<path d="M602.8 328.2H661.5V378.8Q661.5 387.8 651.5 387.8Q632.0 390.0 612.8 387.8Q602.8 387.8 602.8 378.8Z" fill="#f7aba0"/>
<path d="M602.8 398.2H661.5V448.8Q661.5 457.8 651.5 457.8Q632.0 460.0 612.8 457.8Q602.8 457.8 602.8 448.8Z" fill="#f7aba0"/>
<path d="M602.8 468.2H661.5V518.8Q661.5 527.8 651.5 527.8Q632.0 530.0 612.8 527.8Q602.8 527.8 602.8 518.8Z" fill="#f7aba0"/>
<path d="M672.8 258.2H731.5V308.8Q731.5 317.8 721.5 317.8Q702.0 320.0 682.8 317.8Q672.8 317.8 672.8 308.8Z" fill="#f7aba0"/>
<path d="M672.8 328.2H731.5V378.8Q731.5 387.8 721.5 387.8Q702.0 390.0 682.8 387.8Q672.8 387.8 672.8 378.8Z" fill="#f7aba0"/>
<path d="M672.8 398.2H731.5V448.8Q731.5 457.8 721.5 457.8Q702.0 460.0 682.8 457.8Q672.8 457.8 672.8 448.8Z" fill="#f7aba0"/>
<path d="M672.8 468.2H731.5V518.8Q731.5 527.8 721.5 527.8Q702.0 530.0 682.8 527.8Q672.8 527.8 672.8 518.8Z" fill="#f7aba0"/>
<path d="M530 323.8 q8 -1.6 16 0 t16 0 t16 0 t16 0 t16 0 t16 0 t16 0 t16 0 t16 0 t16 0 t16 0 t16 0 t16 0 V328.2 H530Z" fill="#e56c55"/><ellipse cx="536.2" cy="327.9" rx="4.2" ry="1.4" fill="#fffaf6"/><ellipse cx="544.2" cy="327.3" rx="2.2" ry="1.1" fill="#fffaf6"/><ellipse cx="551.0" cy="326.2" rx="3.0" ry="1.4" fill="#fffaf6"/><ellipse cx="557.2" cy="326.2" rx="1.8" ry="1.5" fill="#fffaf6"/><ellipse cx="564.2" cy="326.2" rx="2.2" ry="1.5" fill="#fffaf6"/><ellipse cx="571.5" cy="327.9" rx="3.5" ry="1.1" fill="#fffaf6"/><ellipse cx="580.0" cy="326.7" rx="3.5" ry="1.1" fill="#fffaf6"/><ellipse cx="589.8" cy="326.2" rx="1.8" ry="1.4" fill="#fffaf6"/><ellipse cx="599.0" cy="326.2" rx="3.0" ry="1.4" fill="#fffaf6"/><ellipse cx="609.2" cy="326.2" rx="4.2" ry="1.1" fill="#fffaf6"/><ellipse cx="618.0" cy="327.9" rx="3.0" ry="1.4" fill="#fffaf6"/><ellipse cx="627.8" cy="327.9" rx="4.2" ry="1.5" fill="#fffaf6"/><ellipse cx="640.8" cy="326.7" rx="4.2" ry="1.4" fill="#fffaf6"/><ellipse cx="650.2" cy="327.9" rx="2.2" ry="1.7" fill="#fffaf6"/><ellipse cx="662.0" cy="327.3" rx="5.0" ry="1.5" fill="#fffaf6"/><ellipse cx="670.8" cy="326.7" rx="2.2" ry="1.5" fill="#fffaf6"/><ellipse cx="681.0" cy="327.9" rx="3.5" ry="1.5" fill="#fffaf6"/><ellipse cx="691.0" cy="327.3" rx="5.0" ry="1.1" fill="#fffaf6"/><ellipse cx="705.5" cy="327.9" rx="5.0" ry="1.7" fill="#fffaf6"/><ellipse cx="715.2" cy="327.3" rx="2.2" ry="1.1" fill="#fffaf6"/><ellipse cx="725.0" cy="326.2" rx="5.0" ry="1.1" fill="#fffaf6"/><ellipse cx="739.5" cy="327.3" rx="5.0" ry="1.5" fill="#fffaf6"/>
<path d="M530 393.8 q8 -1.6 16 0 t16 0 t16 0 t16 0 t16 0 t16 0 t16 0 t16 0 t16 0 t16 0 t16 0 t16 0 t16 0 V398.2 H530Z" fill="#e56c55"/><ellipse cx="535.5" cy="397.9" rx="3.5" ry="1.7" fill="#fffaf6"/><ellipse cx="545.5" cy="396.2" rx="3.5" ry="1.1" fill="#fffaf6"/><ellipse cx="555.5" cy="397.9" rx="3.5" ry="1.4" fill="#fffaf6"/><ellipse cx="562.2" cy="397.9" rx="1.8" ry="1.5" fill="#fffaf6"/><ellipse cx="568.2" cy="397.9" rx="1.8" ry="1.4" fill="#fffaf6"/><ellipse cx="573.2" cy="396.2" rx="1.8" ry="1.4" fill="#fffaf6"/><ellipse cx="582.5" cy="397.9" rx="3.0" ry="1.5" fill="#fffaf6"/><ellipse cx="593.0" cy="397.3" rx="5.0" ry="1.1" fill="#fffaf6"/><ellipse cx="601.8" cy="397.9" rx="2.2" ry="1.5" fill="#fffaf6"/><ellipse cx="610.5" cy="397.3" rx="5.0" ry="1.1" fill="#fffaf6"/><ellipse cx="623.5" cy="397.9" rx="5.0" ry="1.1" fill="#fffaf6"/><ellipse cx="634.5" cy="396.2" rx="3.0" ry="1.4" fill="#fffaf6"/><ellipse cx="640.8" cy="396.7" rx="1.8" ry="1.4" fill="#fffaf6"/><ellipse cx="650.0" cy="397.3" rx="5.0" ry="1.5" fill="#fffaf6"/><ellipse cx="661.2" cy="396.7" rx="1.8" ry="1.4" fill="#fffaf6"/><ellipse cx="667.5" cy="397.3" rx="3.0" ry="1.7" fill="#fffaf6"/><ellipse cx="676.0" cy="397.3" rx="3.0" ry="1.4" fill="#fffaf6"/><ellipse cx="686.2" cy="396.2" rx="4.2" ry="1.7" fill="#fffaf6"/><ellipse cx="697.8" cy="396.2" rx="4.2" ry="1.4" fill="#fffaf6"/><ellipse cx="710.8" cy="397.3" rx="4.2" ry="1.4" fill="#fffaf6"/><ellipse cx="718.2" cy="397.9" rx="1.8" ry="1.7" fill="#fffaf6"/><ellipse cx="729.5" cy="396.7" rx="5.0" ry="1.5" fill="#fffaf6"/>
<path d="M530 463.8 q8 -1.6 16 0 t16 0 t16 0 t16 0 t16 0 t16 0 t16 0 t16 0 t16 0 t16 0 t16 0 t16 0 t16 0 V468.2 H530Z" fill="#e56c55"/><ellipse cx="533.8" cy="467.3" rx="1.8" ry="1.7" fill="#fffaf6"/><ellipse cx="542.0" cy="467.3" rx="3.5" ry="1.1" fill="#fffaf6"/><ellipse cx="551.0" cy="467.3" rx="3.0" ry="1.1" fill="#fffaf6"/><ellipse cx="560.5" cy="466.7" rx="5.0" ry="1.5" fill="#fffaf6"/><ellipse cx="573.0" cy="466.7" rx="5.0" ry="1.5" fill="#fffaf6"/><ellipse cx="584.5" cy="466.2" rx="3.5" ry="1.1" fill="#fffaf6"/><ellipse cx="594.0" cy="467.9" rx="3.0" ry="1.1" fill="#fffaf6"/><ellipse cx="602.8" cy="466.7" rx="4.2" ry="1.4" fill="#fffaf6"/><ellipse cx="611.8" cy="466.7" rx="2.2" ry="1.7" fill="#fffaf6"/><ellipse cx="620.8" cy="466.2" rx="4.2" ry="1.7" fill="#fffaf6"/><ellipse cx="633.0" cy="467.9" rx="5.0" ry="1.1" fill="#fffaf6"/><ellipse cx="641.2" cy="466.7" rx="1.8" ry="1.5" fill="#fffaf6"/><ellipse cx="648.0" cy="466.2" rx="3.5" ry="1.5" fill="#fffaf6"/><ellipse cx="655.2" cy="466.7" rx="2.2" ry="1.4" fill="#fffaf6"/><ellipse cx="664.2" cy="466.7" rx="2.2" ry="1.1" fill="#fffaf6"/><ellipse cx="671.0" cy="467.9" rx="3.0" ry="1.1" fill="#fffaf6"/><ellipse cx="678.8" cy="467.9" rx="1.8" ry="1.1" fill="#fffaf6"/><ellipse cx="688.5" cy="466.7" rx="5.0" ry="1.1" fill="#fffaf6"/><ellipse cx="699.5" cy="466.2" rx="3.0" ry="1.1" fill="#fffaf6"/><ellipse cx="710.0" cy="467.3" rx="3.0" ry="1.4" fill="#fffaf6"/><ellipse cx="716.8" cy="466.7" rx="2.2" ry="1.5" fill="#fffaf6"/><ellipse cx="725.0" cy="467.3" rx="3.0" ry="1.1" fill="#fffaf6"/><ellipse cx="733.8" cy="467.3" rx="4.2" ry="1.1" fill="#fffaf6"/>
<rect x="596.0" y="290" width="2.0" height="210" fill="#f59a25"/>
<rect x="666.0" y="290" width="2.0" height="210" fill="#f59a25"/>
<rect x="592.5" y="250.0" width="9" height="14" fill="#ee826b"/><rect x="595.1" y="253.0" width="3.8" height="8.5" rx="1.5" fill="#fffaf6"/><circle cx="597.3" cy="251.4" r="2.3" fill="#8a4a52"/><circle cx="596.8" cy="262.2" r="2.3" fill="#8a4a52"/><ellipse cx="598.5" cy="290.8" rx="10.2" ry="13" fill="#f28c62"/><path d="M599.2 278.4C601.0 278.6 599.5 282.0 601.6 284.5C603.7 286.9 603.7 283.4 604.9 285.1C606.1 286.8 603.8 286.1 604.9 289.2C606.0 292.2 608.6 291.2 608.0 293.3C607.4 295.4 605.2 292.4 603.2 294.8C601.3 297.3 604.2 298.8 602.7 300.0C601.3 301.3 602.1 297.6 599.2 298.4C596.3 299.1 596.5 303.2 594.9 302.0C593.3 300.8 596.0 298.5 594.8 295.2C593.6 291.9 592.0 295.1 591.7 293.0C591.4 290.8 593.8 292.7 594.0 289.3C594.2 285.9 591.2 285.7 592.1 283.7C593.1 281.8 594.0 286.0 596.6 284.0C599.2 282.0 597.4 278.2 599.2 278.4Z" fill="#fbd450" stroke="#f59a25" stroke-width="0.7"/>
<rect x="592.5" y="320.0" width="9" height="14" fill="#ee826b"/><rect x="595.1" y="323.0" width="3.8" height="8.5" rx="1.5" fill="#fffaf6"/><circle cx="597.3" cy="321.4" r="2.3" fill="#8a4a52"/><circle cx="596.8" cy="332.2" r="2.3" fill="#8a4a52"/><ellipse cx="598.5" cy="360.8" rx="10.2" ry="13" fill="#f28c62"/><path d="M599.2 348.4C601.0 348.6 599.5 352.0 601.6 354.5C603.7 356.9 603.7 353.4 604.9 355.1C606.1 356.8 603.8 356.1 604.9 359.2C606.0 362.2 608.6 361.2 608.0 363.3C607.4 365.4 605.2 362.4 603.2 364.8C601.3 367.3 604.2 368.8 602.7 370.0C601.3 371.3 602.1 367.6 599.2 368.4C596.3 369.1 596.5 373.2 594.9 372.0C593.3 370.8 596.0 368.5 594.8 365.2C593.6 361.9 592.0 365.1 591.7 363.0C591.4 360.8 593.8 362.7 594.0 359.3C594.2 355.9 591.2 355.7 592.1 353.7C593.1 351.8 594.0 356.0 596.6 354.0C599.2 352.0 597.4 348.2 599.2 348.4Z" fill="#fbd450" stroke="#f59a25" stroke-width="0.7"/>
<rect x="592.5" y="390.0" width="9" height="14" fill="#ee826b"/><rect x="595.1" y="393.0" width="3.8" height="8.5" rx="1.5" fill="#fffaf6"/><circle cx="597.3" cy="391.4" r="2.3" fill="#8a4a52"/><circle cx="596.8" cy="402.2" r="2.3" fill="#8a4a52"/><ellipse cx="598.5" cy="430.8" rx="10.2" ry="13" fill="#f28c62"/><path d="M599.2 418.4C601.0 418.6 599.5 422.0 601.6 424.5C603.7 426.9 603.7 423.4 604.9 425.1C606.1 426.8 603.8 426.1 604.9 429.2C606.0 432.2 608.6 431.2 608.0 433.3C607.4 435.4 605.2 432.4 603.2 434.8C601.3 437.3 604.2 438.8 602.7 440.0C601.3 441.3 602.1 437.6 599.2 438.4C596.3 439.1 596.5 443.2 594.9 442.0C593.3 440.8 596.0 438.5 594.8 435.2C593.6 431.9 592.0 435.1 591.7 433.0C591.4 430.8 593.8 432.7 594.0 429.3C594.2 425.9 591.2 425.7 592.1 423.7C593.1 421.8 594.0 426.0 596.6 424.0C599.2 422.0 597.4 418.2 599.2 418.4Z" fill="#fbd450" stroke="#f59a25" stroke-width="0.7"/>
<rect x="592.5" y="460.0" width="9" height="14" fill="#ee826b"/><rect x="595.1" y="463.0" width="3.8" height="8.5" rx="1.5" fill="#fffaf6"/><circle cx="597.3" cy="461.4" r="2.3" fill="#8a4a52"/><circle cx="596.8" cy="472.2" r="2.3" fill="#8a4a52"/><ellipse cx="598.5" cy="500.8" rx="10.2" ry="13" fill="#f28c62"/><path d="M599.2 488.4C601.0 488.6 599.5 492.0 601.6 494.5C603.7 496.9 603.7 493.4 604.9 495.1C606.1 496.8 603.8 496.1 604.9 499.2C606.0 502.2 608.6 501.2 608.0 503.3C607.4 505.4 605.2 502.4 603.2 504.8C601.3 507.3 604.2 508.8 602.7 510.0C601.3 511.3 602.1 507.6 599.2 508.4C596.3 509.1 596.5 513.2 594.9 512.0C593.3 510.8 596.0 508.5 594.8 505.2C593.6 501.9 592.0 505.1 591.7 503.0C591.4 500.8 593.8 502.7 594.0 499.3C594.2 495.9 591.2 495.7 592.1 493.7C593.1 491.8 594.0 496.0 596.6 494.0C599.2 492.0 597.4 488.2 599.2 488.4Z" fill="#fbd450" stroke="#f59a25" stroke-width="0.7"/>
<rect x="662.5" y="250.0" width="9" height="14" fill="#ee826b"/><rect x="665.1" y="253.0" width="3.8" height="8.5" rx="1.5" fill="#fffaf6"/><circle cx="667.3" cy="251.4" r="2.3" fill="#8a4a52"/><circle cx="666.8" cy="262.2" r="2.3" fill="#8a4a52"/><ellipse cx="668.5" cy="290.8" rx="10.2" ry="13" fill="#f28c62"/><path d="M669.2 278.4C671.0 278.6 669.5 282.0 671.6 284.5C673.7 286.9 673.7 283.4 674.9 285.1C676.1 286.8 673.8 286.1 674.9 289.2C676.0 292.2 678.6 291.2 678.0 293.3C677.4 295.4 675.2 292.4 673.2 294.8C671.3 297.3 674.2 298.8 672.7 300.0C671.3 301.3 672.1 297.6 669.2 298.4C666.3 299.1 666.5 303.2 664.9 302.0C663.3 300.8 666.0 298.5 664.8 295.2C663.6 291.9 662.0 295.1 661.7 293.0C661.4 290.8 663.8 292.7 664.0 289.3C664.2 285.9 661.2 285.7 662.1 283.7C663.1 281.8 664.0 286.0 666.6 284.0C669.2 282.0 667.4 278.2 669.2 278.4Z" fill="#fbd450" stroke="#f59a25" stroke-width="0.7"/>
<rect x="662.5" y="320.0" width="9" height="14" fill="#ee826b"/><rect x="665.1" y="323.0" width="3.8" height="8.5" rx="1.5" fill="#fffaf6"/><circle cx="667.3" cy="321.4" r="2.3" fill="#8a4a52"/><circle cx="666.8" cy="332.2" r="2.3" fill="#8a4a52"/><ellipse cx="668.5" cy="360.8" rx="10.2" ry="13" fill="#f28c62"/><path d="M669.2 348.4C671.0 348.6 669.5 352.0 671.6 354.5C673.7 356.9 673.7 353.4 674.9 355.1C676.1 356.8 673.8 356.1 674.9 359.2C676.0 362.2 678.6 361.2 678.0 363.3C677.4 365.4 675.2 362.4 673.2 364.8C671.3 367.3 674.2 368.8 672.7 370.0C671.3 371.3 672.1 367.6 669.2 368.4C666.3 369.1 666.5 373.2 664.9 372.0C663.3 370.8 666.0 368.5 664.8 365.2C663.6 361.9 662.0 365.1 661.7 363.0C661.4 360.8 663.8 362.7 664.0 359.3C664.2 355.9 661.2 355.7 662.1 353.7C663.1 351.8 664.0 356.0 666.6 354.0C669.2 352.0 667.4 348.2 669.2 348.4Z" fill="#fbd450" stroke="#f59a25" stroke-width="0.7"/>
<rect x="662.5" y="390.0" width="9" height="14" fill="#ee826b"/><rect x="665.1" y="393.0" width="3.8" height="8.5" rx="1.5" fill="#fffaf6"/><circle cx="667.3" cy="391.4" r="2.3" fill="#8a4a52"/><circle cx="666.8" cy="402.2" r="2.3" fill="#8a4a52"/><ellipse cx="668.5" cy="430.8" rx="10.2" ry="13" fill="#f28c62"/><path d="M669.2 418.4C671.0 418.6 669.5 422.0 671.6 424.5C673.7 426.9 673.7 423.4 674.9 425.1C676.1 426.8 673.8 426.1 674.9 429.2C676.0 432.2 678.6 431.2 678.0 433.3C677.4 435.4 675.2 432.4 673.2 434.8C671.3 437.3 674.2 438.8 672.7 440.0C671.3 441.3 672.1 437.6 669.2 438.4C666.3 439.1 666.5 443.2 664.9 442.0C663.3 440.8 666.0 438.5 664.8 435.2C663.6 431.9 662.0 435.1 661.7 433.0C661.4 430.8 663.8 432.7 664.0 429.3C664.2 425.9 661.2 425.7 662.1 423.7C663.1 421.8 664.0 426.0 666.6 424.0C669.2 422.0 667.4 418.2 669.2 418.4Z" fill="#fbd450" stroke="#f59a25" stroke-width="0.7"/>
<rect x="662.5" y="460.0" width="9" height="14" fill="#ee826b"/><rect x="665.1" y="463.0" width="3.8" height="8.5" rx="1.5" fill="#fffaf6"/><circle cx="667.3" cy="461.4" r="2.3" fill="#8a4a52"/><circle cx="666.8" cy="472.2" r="2.3" fill="#8a4a52"/><ellipse cx="668.5" cy="500.8" rx="10.2" ry="13" fill="#f28c62"/><path d="M669.2 488.4C671.0 488.6 669.5 492.0 671.6 494.5C673.7 496.9 673.7 493.4 674.9 495.1C676.1 496.8 673.8 496.1 674.9 499.2C676.0 502.2 678.6 501.2 678.0 503.3C677.4 505.4 675.2 502.4 673.2 504.8C671.3 507.3 674.2 508.8 672.7 510.0C671.3 511.3 672.1 507.6 669.2 508.4C666.3 509.1 666.5 513.2 664.9 512.0C663.3 510.8 666.0 508.5 664.8 505.2C663.6 501.9 662.0 505.1 661.7 503.0C661.4 500.8 663.8 502.7 664.0 499.3C664.2 495.9 661.2 495.7 662.1 493.7C663.1 491.8 664.0 496.0 666.6 494.0C669.2 492.0 667.4 488.2 669.2 488.4Z" fill="#fbd450" stroke="#f59a25" stroke-width="0.7"/>
<ellipse cx="563.4" cy="295.4" rx="15.8" ry="15" fill="#f3998a"/><circle cx="562.4" cy="293.2" r="15.1" fill="#a83441"/><ellipse cx="563.6" cy="291.6" rx="13.6" ry="13" fill="#c44a55"/><ellipse cx="565.6" cy="289.2" rx="8.5" ry="7.5" fill="#cf5c66" fill-opacity="0.7"/>
<ellipse cx="563.4" cy="365.4" rx="15.8" ry="15" fill="#f3998a"/><circle cx="562.4" cy="363.2" r="15.1" fill="#a83441"/><ellipse cx="563.6" cy="361.6" rx="13.6" ry="13" fill="#c44a55"/><ellipse cx="565.6" cy="359.2" rx="8.5" ry="7.5" fill="#cf5c66" fill-opacity="0.7"/>
<ellipse cx="563.4" cy="435.4" rx="15.8" ry="15" fill="#f3998a"/><circle cx="562.4" cy="433.2" r="15.1" fill="#a83441"/><ellipse cx="563.6" cy="431.6" rx="13.6" ry="13" fill="#c44a55"/><ellipse cx="565.6" cy="429.2" rx="8.5" ry="7.5" fill="#cf5c66" fill-opacity="0.7"/>
<ellipse cx="563.4" cy="505.4" rx="15.8" ry="15" fill="#f3998a"/><circle cx="562.4" cy="503.2" r="15.1" fill="#a83441"/><ellipse cx="563.6" cy="501.6" rx="13.6" ry="13" fill="#c44a55"/><ellipse cx="565.6" cy="499.2" rx="8.5" ry="7.5" fill="#cf5c66" fill-opacity="0.7"/>
<ellipse cx="634.2" cy="295.4" rx="15.8" ry="15" fill="#f3998a"/><circle cx="633.2" cy="293.2" r="15.1" fill="#a83441"/><ellipse cx="634.4" cy="291.6" rx="13.6" ry="13" fill="#c44a55"/><ellipse cx="636.4" cy="289.2" rx="8.5" ry="7.5" fill="#cf5c66" fill-opacity="0.7"/>
<ellipse cx="634.2" cy="365.4" rx="15.8" ry="15" fill="#f3998a"/><circle cx="633.2" cy="363.2" r="15.1" fill="#a83441"/><ellipse cx="634.4" cy="361.6" rx="13.6" ry="13" fill="#c44a55"/><ellipse cx="636.4" cy="359.2" rx="8.5" ry="7.5" fill="#cf5c66" fill-opacity="0.7"/>
<ellipse cx="634.2" cy="435.4" rx="15.8" ry="15" fill="#f3998a"/><circle cx="633.2" cy="433.2" r="15.1" fill="#a83441"/><ellipse cx="634.4" cy="431.6" rx="13.6" ry="13" fill="#c44a55"/><ellipse cx="636.4" cy="429.2" rx="8.5" ry="7.5" fill="#cf5c66" fill-opacity="0.7"/>
<ellipse cx="634.2" cy="505.4" rx="15.8" ry="15" fill="#f3998a"/><circle cx="633.2" cy="503.2" r="15.1" fill="#a83441"/><ellipse cx="634.4" cy="501.6" rx="13.6" ry="13" fill="#c44a55"/><ellipse cx="636.4" cy="499.2" rx="8.5" ry="7.5" fill="#cf5c66" fill-opacity="0.7"/>
<ellipse cx="701.2" cy="295.4" rx="15.8" ry="15" fill="#f3998a"/><circle cx="700.2" cy="293.2" r="15.1" fill="#a83441"/><ellipse cx="701.4" cy="291.6" rx="13.6" ry="13" fill="#c44a55"/><ellipse cx="703.4" cy="289.2" rx="8.5" ry="7.5" fill="#cf5c66" fill-opacity="0.7"/>
<ellipse cx="701.2" cy="365.4" rx="15.8" ry="15" fill="#f3998a"/><circle cx="700.2" cy="363.2" r="15.1" fill="#a83441"/><ellipse cx="701.4" cy="361.6" rx="13.6" ry="13" fill="#c44a55"/><ellipse cx="703.4" cy="359.2" rx="8.5" ry="7.5" fill="#cf5c66" fill-opacity="0.7"/>
<ellipse cx="701.2" cy="435.4" rx="15.8" ry="15" fill="#f3998a"/><circle cx="700.2" cy="433.2" r="15.1" fill="#a83441"/><ellipse cx="701.4" cy="431.6" rx="13.6" ry="13" fill="#c44a55"/><ellipse cx="703.4" cy="429.2" rx="8.5" ry="7.5" fill="#cf5c66" fill-opacity="0.7"/>
<ellipse cx="701.2" cy="505.4" rx="15.8" ry="15" fill="#f3998a"/><circle cx="700.2" cy="503.2" r="15.1" fill="#a83441"/><ellipse cx="701.4" cy="501.6" rx="13.6" ry="13" fill="#c44a55"/><ellipse cx="703.4" cy="499.2" rx="8.5" ry="7.5" fill="#cf5c66" fill-opacity="0.7"/>
</g>
<g><ellipse cx="438.7" cy="232.6" rx="34.8" ry="23.6" transform="rotate(0 438.7 232.6)" fill="#bd7d45" stroke="#9e6432" stroke-width="1"/><ellipse cx="439.45" cy="229.85" rx="32.199999999999996" ry="20.3" transform="rotate(0 439.45 229.85)" fill="#d59c64"/><ellipse cx="440.0" cy="228.8" rx="20.4" ry="15.1" transform="rotate(0 440.0 228.8)" fill="#6b2f47"/><ellipse cx="442.0" cy="226.4" rx="18.4" ry="12.3" transform="rotate(0 442.0 226.4)" fill="#945e72"/>
<ellipse cx="497.0" cy="203.0" rx="28.0" ry="27.0" transform="rotate(20 497.0 203.0)" fill="#bd7d45" stroke="#9e6432" stroke-width="1"/><ellipse cx="495.5" cy="200.5" rx="25.4" ry="23.7" transform="rotate(20 495.5 200.5)" fill="#d59c64"/><ellipse cx="489.5" cy="204.6" rx="18.6" ry="15.5" transform="rotate(15 489.5 204.6)" fill="#6b2f47"/><ellipse cx="492.6" cy="202.5" rx="15.6" ry="12.9" transform="rotate(15 492.6 202.5)" fill="#945e72"/>
<ellipse cx="480.0" cy="151.5" rx="26.0" ry="26.0" transform="rotate(20 480.0 151.5)" fill="#bd7d45" stroke="#9e6432" stroke-width="1"/><ellipse cx="477.75" cy="149.25" rx="23.4" ry="22.7" transform="rotate(20 477.75 149.25)" fill="#d59c64"/><ellipse cx="474.0" cy="154.8" rx="17.0" ry="14.6" transform="rotate(15 474.0 154.8)" fill="#6b2f47"/><ellipse cx="472.2" cy="152.0" rx="14.4" ry="11.2" transform="rotate(15 472.2 152.0)" fill="#945e72"/>
<ellipse cx="427.0" cy="145.0" rx="32.5" ry="27.5" transform="rotate(8 427.0 145.0)" fill="#bd7d45" stroke="#9e6432" stroke-width="1"/><ellipse cx="426.25" cy="142.5" rx="29.9" ry="24.2" transform="rotate(8 426.25 142.5)" fill="#d59c64"/><ellipse cx="425.5" cy="147.5" rx="20.3" ry="14.9" transform="rotate(5 425.5 147.5)" fill="#6b2f47"/><ellipse cx="427.3" cy="145.1" rx="18.5" ry="12.0" transform="rotate(5 427.3 145.1)" fill="#945e72"/>
<ellipse cx="316.5" cy="201.5" rx="33.5" ry="27.5" transform="rotate(-18 316.5 201.5)" fill="#bd7d45" stroke="#9e6432" stroke-width="1"/><ellipse cx="318.0" cy="199.0" rx="30.9" ry="24.2" transform="rotate(-18 318.0 199.0)" fill="#d59c64"/><ellipse cx="317.2" cy="201.6" rx="15.6" ry="14.6" transform="rotate(-10 317.2 201.6)" fill="#6b2f47"/><ellipse cx="320.3" cy="199.6" rx="14.0" ry="12.3" transform="rotate(-10 320.3 199.6)" fill="#945e72"/>
<ellipse cx="331.0" cy="156.6" rx="29.5" ry="23.6" transform="rotate(-8 331.0 156.6)" fill="#bd7d45" stroke="#9e6432" stroke-width="1"/><ellipse cx="333.25" cy="154.725" rx="26.9" ry="20.3" transform="rotate(-8 333.25 154.725)" fill="#d59c64"/><ellipse cx="332.1" cy="160.6" rx="18.8" ry="14.9" transform="rotate(-5 332.1 160.6)" fill="#6b2f47"/><ellipse cx="336.0" cy="158.7" rx="14.9" ry="11.5" transform="rotate(-5 336.0 158.7)" fill="#945e72"/>
<ellipse cx="352.5" cy="206.0" rx="29.0" ry="26.7" transform="rotate(-10 352.5 206.0)" fill="#bd7d45" stroke="#9e6432" stroke-width="1"/><ellipse cx="354.0" cy="203.5" rx="26.4" ry="23.4" transform="rotate(-10 354.0 203.5)" fill="#d59c64"/><ellipse cx="357.7" cy="204.9" rx="16.8" ry="14.0" transform="rotate(-5 357.7 204.9)" fill="#6b2f47"/><ellipse cx="360.0" cy="202.7" rx="14.4" ry="11.0" transform="rotate(-5 360.0 202.7)" fill="#945e72"/>
<ellipse cx="384.5" cy="223.7" rx="33.7" ry="25.0" transform="rotate(-5 384.5 223.7)" fill="#bd7d45" stroke="#9e6432" stroke-width="1"/><ellipse cx="386.0" cy="220.95" rx="31.1" ry="21.7" transform="rotate(-5 386.0 220.95)" fill="#d59c64"/><ellipse cx="382.8" cy="220.1" rx="17.0" ry="14.0" transform="rotate(-5 382.8 220.1)" fill="#6b2f47"/><ellipse cx="385.4" cy="217.6" rx="14.4" ry="11.0" transform="rotate(-5 385.4 217.6)" fill="#945e72"/>
<ellipse cx="374.0" cy="127.4" rx="36.0" ry="26.0" transform="rotate(-12 374.0 127.4)" fill="#bd7d45" stroke="#9e6432" stroke-width="1"/><ellipse cx="375.8" cy="125.15" rx="33.4" ry="22.7" transform="rotate(-12 375.8 125.15)" fill="#d59c64"/><ellipse cx="376.3" cy="129.6" rx="20.1" ry="14.4" transform="rotate(-5 376.3 129.6)" fill="#6b2f47"/><ellipse cx="378.0" cy="128.0" rx="17.0" ry="12.4" transform="rotate(-5 378.0 128.0)" fill="#945e72"/>
<ellipse cx="380.2" cy="171.0" rx="32.0" ry="28.5" transform="rotate(-8 380.2 171.0)" fill="#bd7d45" stroke="#9e6432" stroke-width="1"/><ellipse cx="381.7" cy="168.5" rx="29.4" ry="25.2" transform="rotate(-8 381.7 168.5)" fill="#d59c64"/><ellipse cx="378.4" cy="172.0" rx="19.3" ry="14.9" transform="rotate(-5 378.4 172.0)" fill="#6b2f47"/><ellipse cx="381.3" cy="170.1" rx="16.4" ry="12.4" transform="rotate(-5 381.3 170.1)" fill="#945e72"/>
<ellipse cx="405.0" cy="195.3" rx="27.4" ry="28.0" transform="rotate(0 405.0 195.3)" fill="#bd7d45" stroke="#9e6432" stroke-width="1"/><ellipse cx="406.5" cy="192.8" rx="24.799999999999997" ry="24.7" transform="rotate(0 406.5 192.8)" fill="#d59c64"/><ellipse cx="406.5" cy="197.0" rx="14.5" ry="15.8" transform="rotate(0 406.5 197.0)" fill="#6b2f47"/><ellipse cx="408.7" cy="194.5" rx="12.3" ry="13.0" transform="rotate(0 408.7 194.5)" fill="#945e72"/>
<ellipse cx="446.2" cy="184.8" rx="34.3" ry="28.9" transform="rotate(0 446.2 184.8)" fill="#bd7d45" stroke="#9e6432" stroke-width="1"/><ellipse cx="446.95" cy="182.05" rx="31.699999999999996" ry="25.599999999999998" transform="rotate(0 446.95 182.05)" fill="#d59c64"/><ellipse cx="445.4" cy="184.8" rx="19.0" ry="15.0" transform="rotate(0 445.4 184.8)" fill="#6b2f47"/><ellipse cx="445.9" cy="181.6" rx="14.6" ry="11.2" transform="rotate(0 445.9 181.6)" fill="#945e72"/></g>
<defs><filter id="rough" x="-10%" y="-10%" width="120%" height="120%"><feTurbulence type="fractalNoise" baseFrequency="0.35" numOctaves="2" seed="3" result="n"/><feDisplacementMap in="SourceGraphic" in2="n" scale="2.2" xChannelSelector="R" yChannelSelector="G"/></filter></defs>
<g fill="#1b75bc" filter="url(#rough)">
<g transform="translate(199.5 190)"><path d="M0.0 0.0L1.5 -3.5L10.5 -7.0L22.5 -11.0L37.0 -14.2L38.2 -12.8L40.3 -14.6L42.5 -14.0L42.0 -10.0L39.5 1.0L35.5 13.0L33.5 17.5L32.3 15.0L32.4 13.6L25.5 12.0L15.5 8.5L5.5 4.0L1.0 1.4ZM30.5 -9.6L35.0 -11.3L36.2 -12.9L37.3 -13.0L36.8 -10.3L35.8 -6.1L34.7 -4.3L30.1 -4.0L28.9 -6.1ZM13.6 1.4L21.1 0.8L21.3 4.8L15.9 4.3ZM24.3 7.3L32.0 6.6L32.2 11.7L25.8 10.9ZM20.1 -5.4L22.9 -5.9L22.4 -3.6L20.5 -3.4Z" fill-rule="evenodd"/><path d="M40.5 -3.2L55.0 -3.6L70.0 -3.4L70.8 -2.0L70.0 -0.8L55.0 -0.7L40.5 -0.6Z"/></g>
<g transform="translate(600.5 190) scale(-1 1)"><path d="M0.0 0.0L1.5 -3.5L10.5 -7.0L22.5 -11.0L37.0 -14.2L38.2 -12.8L40.3 -14.6L42.5 -14.0L42.0 -10.0L39.5 1.0L35.5 13.0L33.5 17.5L32.3 15.0L32.4 13.6L25.5 12.0L15.5 8.5L5.5 4.0L1.0 1.4ZM30.5 -9.6L35.0 -11.3L36.2 -12.9L37.3 -13.0L36.8 -10.3L35.8 -6.1L34.7 -4.3L30.1 -4.0L28.9 -6.1ZM13.6 1.4L21.1 0.8L21.3 4.8L15.9 4.3ZM24.3 7.3L32.0 6.6L32.2 11.7L25.8 10.9ZM20.1 -5.4L22.9 -5.9L22.4 -3.6L20.5 -3.4Z" fill-rule="evenodd"/><path d="M40.5 -3.2L55.0 -3.6L70.0 -3.4L70.8 -2.0L70.0 -0.8L55.0 -0.7L40.5 -0.6Z"/></g>
<g transform="translate(276.5 295.8) rotate(-34.8)"><path d="M0.0 0.0L1.5 -3.5L10.5 -7.0L22.5 -11.0L37.0 -14.2L38.2 -12.8L40.3 -14.6L42.5 -14.0L42.0 -10.0L39.5 1.0L35.5 13.0L33.5 17.5L32.3 15.0L32.4 13.6L25.5 12.0L15.5 8.5L5.5 4.0L1.0 1.4ZM30.5 -9.6L35.0 -11.3L36.2 -12.9L37.3 -13.0L36.8 -10.3L35.8 -6.1L34.7 -4.3L30.1 -4.0L28.9 -6.1ZM13.6 1.4L21.1 0.8L21.3 4.8L15.9 4.3ZM24.3 7.3L32.0 6.6L32.2 11.7L25.8 10.9ZM20.1 -5.4L22.9 -5.9L22.4 -3.6L20.5 -3.4Z" fill-rule="evenodd"/><path d="M40.5 -3.2L55.0 -3.6L70.0 -3.4L70.8 -2.0L70.0 -0.8L55.0 -0.7L40.5 -0.6Z"/></g>
<g transform="translate(403.8 331.3) rotate(96) scale(-1 1)"><path d="M0.0 0.0L1.5 -3.5L10.5 -7.0L22.5 -11.0L37.0 -14.2L38.2 -12.8L40.3 -14.6L42.5 -14.0L42.0 -10.0L39.5 1.0L35.5 13.0L33.5 17.5L32.3 15.0L32.4 13.6L25.5 12.0L15.5 8.5L5.5 4.0L1.0 1.4ZM30.5 -9.6L35.0 -11.3L36.2 -12.9L37.3 -13.0L36.8 -10.3L35.8 -6.1L34.7 -4.3L30.1 -4.0L28.9 -6.1ZM13.6 1.4L21.1 0.8L21.3 4.8L15.9 4.3ZM24.3 7.3L32.0 6.6L32.2 11.7L25.8 10.9ZM20.1 -5.4L22.9 -5.9L22.4 -3.6L20.5 -3.4Z" fill-rule="evenodd"/><path d="M40.5 -3.2L55.0 -3.6L70.0 -3.4L70.8 -2.0L70.0 -0.8L55.0 -0.7L40.5 -0.6Z"/></g>
<g transform="translate(540.5 294.6) rotate(35.6) scale(-1 1)"><path d="M0.0 0.0L1.5 -3.5L10.5 -7.0L22.5 -11.0L37.0 -14.2L38.2 -12.8L40.3 -14.6L42.5 -14.0L42.0 -10.0L39.5 1.0L35.5 13.0L33.5 17.5L32.3 15.0L32.4 13.6L25.5 12.0L15.5 8.5L5.5 4.0L1.0 1.4ZM30.5 -9.6L35.0 -11.3L36.2 -12.9L37.3 -13.0L36.8 -10.3L35.8 -6.1L34.7 -4.3L30.1 -4.0L28.9 -6.1ZM13.6 1.4L21.1 0.8L21.3 4.8L15.9 4.3ZM24.3 7.3L32.0 6.6L32.2 11.7L25.8 10.9ZM20.1 -5.4L22.9 -5.9L22.4 -3.6L20.5 -3.4Z" fill-rule="evenodd"/><path d="M40.5 -3.2L55.0 -3.6L70.0 -3.4L70.8 -2.0L70.0 -0.8L55.0 -0.7L40.5 -0.6Z"/></g>
</g>
<text transform="scale(0.86 1)" x="205.3 241.8 266.8 291.2 330.8 346.5 386.4 416.8 429.6 440.2 463.4 495.7 522.9 552.4 567.0 580.8 608.0 643.6 665.0 678.7 707.8 736.9" y="40" font-size="47.5" stroke-width="1.3">Stem Cell Applications</text>
<text transform="scale(0.85 1)" x="405.7 423.6 434.6 448.9 470.6 480.2 495.3 511.5 519.2 528.9" y="92" font-size="26" stroke-width="0.8">stem cells</text>
<text transform="scale(0.85 1)" x="40.0 48.4 56.9 72.1 90.7 99.4 113.9 128.9 145.3 153.4 161.7" y="281.5" font-size="26" stroke-width="0.8">liver cells</text>
<text transform="scale(0.85 1)" x="765.7 781.9 800.5 814.8 829.7 844.1 855.9 871.0 887.4 895.5 904.2" y="281" font-size="26" stroke-width="0.8">nerve cells</text>
<text transform="scale(0.85 1)" x="138.9 160.2 176.1 190.5 206.3 212.8 227.2 237.9 253.0 269.2 277.2 285.5" y="519.6" font-size="26" stroke-width="0.8">muscle cells</text>
<text transform="scale(0.85 1)" x="421.4 438.1 446.6 463.1 478.2 492.7 504.1 519.4 535.7 543.8 552.2" y="574.2" font-size="26" stroke-width="0.8">blood cells</text>
<text transform="scale(0.85 1)" x="651.6 660.8 679.4 691.0 706.9 723.5 735.7 743.7 759.2 776.1 781.9 794.0 809.8 827.0 834.2 841.8" y="520" font-size="26" stroke-width="0.8">intestinal cells</text>
</svg>
</body>
</html>
